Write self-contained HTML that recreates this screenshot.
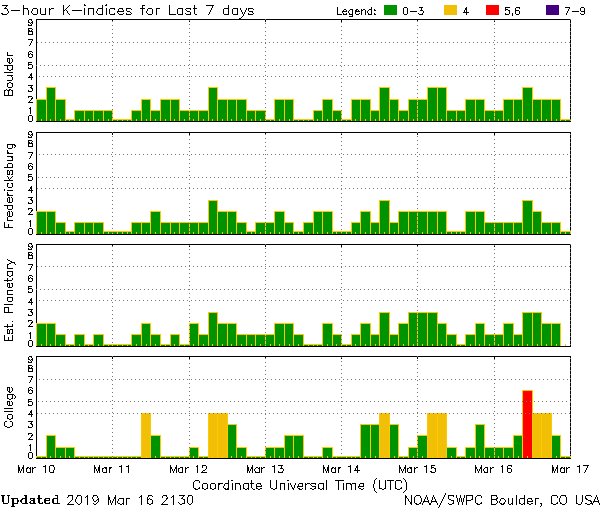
<!DOCTYPE html>
<html lang="en">
<head>
<meta charset="utf-8">
<title>3-hour K-indices for Last 7 days</title>
<style>
html,body{margin:0;padding:0;background:#fff}
body{width:600px;height:510px;overflow:hidden;font-family:"Liberation Sans",sans-serif}
svg{display:block;shape-rendering:crispEdges}
.h{fill:transparent;stroke:none;font-family:"Liberation Sans",sans-serif;font-size:9px}
.k,.t path{fill:#000}.y{fill:#ffc800}.o{fill:#f1bf05}.g{fill:#009300}.r{fill:#ff0000}.p{fill:#420080}.d{fill:#787878}.x0{fill:#707080}.x1{fill:#698c8c}
</style>
</head>
<body>
<svg width="600" height="510" viewBox="0 0 600 510" role="img" aria-label="3-hour K-indices for Last 7 days">
<rect width="600" height="510" fill="#fff"/>
<g id="panel-1"><title>Boulder K-index</title>
<path class="k frame" d="M36 19h1v103h-1zm0 0h535v1h-535zm534 0h1v103h-1zm-534 102h535v1h-535z"/>
<path class="k tick" d="M112 20h1v2h-1zm77 0h1v2h-1zm76 0h1v2h-1zm76 0h1v2h-1zm76 0h1v2h-1zm77 0h1v2h-1z"/>
<path class="y barborder" d="M46 87h10v34h-10zm162 0h10v34h-10zm171 0h11v34h-11zm48 0h11v34h-11zm10 0h10v34h-10zm85 0h11v34h-11zm-486 12h11v22h-11zm19 0h11v22h-11zm86 0h10v22h-10zm19 0h11v22h-11zm10 0h10v22h-10zm47 0h11v22h-11zm10 0h10v22h-10zm9 0h11v22h-11zm38 0h11v22h-11zm10 0h10v22h-10zm38 0h11v22h-11zm29 0h10v22h-10zm9 0h11v22h-11zm29 0h10v22h-10zm19 0h10v22h-10zm9 0h11v22h-11zm48 0h11v22h-11zm10 0h10v22h-10zm28 0h11v22h-11zm10 0h10v22h-10zm19 0h10v22h-10zm9 0h11v22h-11zm10 0h10v22h-10zm-477 11h11v11h-11zm10 0h10v11h-10zm9 0h11v11h-11zm10 0h10v11h-10zm28 0h11v11h-11zm19 0h11v11h-11zm29 0h11v11h-11zm10 0h10v11h-10zm9 0h11v11h-11zm48 0h10v11h-10zm9 0h11v11h-11zm58 0h10v11h-10zm19 0h10v11h-10zm38 0h10v11h-10zm28 0h11v11h-11zm48 0h11v11h-11zm10 0h10v11h-10zm28 0h11v11h-11zm10 0h10v11h-10zm-429 9h10v2h-10zm47 0h11v2h-11zm10 0h10v2h-10zm143 0h10v2h-10zm28 0h11v2h-11zm10 0h11v2h-11zm38 0h11v2h-11zm219 0h11v2h-11z"/>
<path class="g barfill" d="M47 88h8v33h-8zm162 0h8v33h-8zm171 0h9v33h-9zm48 0h9v33h-9zm10 0h8v33h-8zm85 0h9v33h-9zm-486 12h9v21h-9zm19 0h9v21h-9zm86 0h8v21h-8zm19 0h9v21h-9zm10 0h8v21h-8zm47 0h9v21h-9zm10 0h8v21h-8zm9 0h9v21h-9zm38 0h9v21h-9zm10 0h8v21h-8zm38 0h9v21h-9zm29 0h8v21h-8zm9 0h9v21h-9zm29 0h8v21h-8zm19 0h8v21h-8zm9 0h9v21h-9zm48 0h9v21h-9zm10 0h8v21h-8zm28 0h9v21h-9zm10 0h8v21h-8zm19 0h8v21h-8zm9 0h9v21h-9zm10 0h8v21h-8zm-477 11h9v10h-9zm10 0h8v10h-8zm9 0h9v10h-9zm10 0h8v10h-8zm28 0h9v10h-9zm19 0h9v10h-9zm29 0h9v10h-9zm10 0h8v10h-8zm9 0h9v10h-9zm48 0h8v10h-8zm9 0h9v10h-9zm58 0h8v10h-8zm19 0h8v10h-8zm38 0h8v10h-8zm28 0h9v10h-9zm48 0h9v10h-9zm10 0h8v10h-8zm28 0h9v10h-9zm10 0h8v10h-8zm-429 9h8v1h-8zm47 0h9v1h-9zm10 0h8v1h-8zm143 0h8v1h-8zm28 0h9v1h-9zm10 0h9v1h-9zm38 0h9v1h-9zm219 0h9v1h-9z"/>
<path class="y ytick" d="M41 119h1v2h-1zm9 0h1v2h-1zm10 0h1v2h-1zm9 0h1v2h-1zm10 0h1v2h-1zm9 0h1v2h-1zm10 0h1v2h-1zm10 0h1v2h-1zm9 0h1v2h-1zm10 0h1v2h-1zm9 0h1v2h-1zm10 0h1v2h-1zm9 0h1v2h-1zm10 0h1v2h-1zm9 0h1v2h-1zm10 0h1v2h-1zm9 0h1v2h-1zm10 0h1v2h-1zm9 0h1v2h-1zm10 0h1v2h-1zm9 0h1v2h-1zm10 0h1v2h-1zm10 0h1v2h-1zm9 0h1v2h-1zm10 0h1v2h-1zm9 0h1v2h-1zm10 0h1v2h-1zm9 0h1v2h-1zm10 0h1v2h-1zm9 0h1v2h-1zm10 0h1v2h-1zm9 0h1v2h-1zm10 0h1v2h-1zm9 0h1v2h-1zm10 0h1v2h-1zm10 0h1v2h-1zm9 0h1v2h-1zm10 0h1v2h-1zm9 0h1v2h-1zm10 0h1v2h-1zm9 0h1v2h-1zm10 0h1v2h-1zm9 0h1v2h-1zm10 0h1v2h-1zm9 0h1v2h-1zm10 0h1v2h-1zm9 0h1v2h-1zm10 0h1v2h-1zm9 0h1v2h-1zm10 0h1v2h-1zm10 0h1v2h-1zm9 0h1v2h-1zm10 0h1v2h-1zm9 0h1v2h-1zm10 0h1v2h-1zm9 0h1v2h-1z"/>
<path class="d dots" d="M265 19h1v1h-1zm305 0h1v1h-1zm-381 1h1v1h-1zm305 0h1v1h-1zm-382 1h1v1h-1zm305 0h1v1h-1zm-76 1h1v1h-1zm-76 1h1v1h-1zm305 0h1v1h-1zm-381 1h1v1h-1zm305 0h1v1h-1zm-382 1h1v1h-1zm305 0h1v1h-1zm-76 1h1v1h-1zm-76 1h1v1h-1zm305 0h1v1h-1zm-381 1h1v1h-1zm305 0h1v1h-1zm-382 1h1v1h-1zm305 0h1v1h-1zm-76 1h1v1h-1zm-76 1h1v1h-1zm305 0h1v1h-1zm-381 1h1v1h-1zm305 0h1v1h-1zm-382 1h1v1h-1zm305 0h1v1h-1zm-76 1h1v1h-1zm-76 1h1v1h-1zm305 0h1v1h-1zm-381 1h1v1h-1zm305 0h1v1h-1zm-382 1h1v1h-1zm305 0h1v1h-1zm-76 1h1v1h-1zm-76 1h1v1h-1zm305 0h1v1h-1zm-381 1h1v1h-1zm305 0h1v1h-1zm-382 1h1v1h-1zm305 0h1v2h-1zm-380 1h1v1h-1zm4 0h1v1h-1zm4 0h1v1h-1zm4 0h1v1h-1zm4 0h1v1h-1zm4 0h1v1h-1zm4 0h1v1h-1zm4 0h1v1h-1zm4 0h1v1h-1zm4 0h1v1h-1zm4 0h1v1h-1zm4 0h1v1h-1zm4 0h1v1h-1zm4 0h1v1h-1zm4 0h1v1h-1zm4 0h1v1h-1zm4 0h1v1h-1zm4 0h1v1h-1zm4 0h1v1h-1zm4 0h1v1h-1zm4 0h1v1h-1zm4 0h1v1h-1zm4 0h1v1h-1zm4 0h1v1h-1zm4 0h1v1h-1zm4 0h1v1h-1zm4 0h1v1h-1zm4 0h1v1h-1zm4 0h1v1h-1zm4 0h1v1h-1zm4 0h1v1h-1zm4 0h1v1h-1zm4 0h1v1h-1zm4 0h1v1h-1zm4 0h1v1h-1zm4 0h1v1h-1zm4 0h1v1h-1zm4 0h1v1h-1zm4 0h1v1h-1zm4 0h1v1h-1zm4 0h1v1h-1zm4 0h1v1h-1zm4 0h1v1h-1zm4 0h1v1h-1zm4 0h1v1h-1zm4 0h1v1h-1zm4 0h1v1h-1zm4 0h1v1h-1zm4 0h1v1h-1zm4 0h1v1h-1zm4 0h1v1h-1zm4 0h1v1h-1zm4 0h1v1h-1zm4 0h1v1h-1zm4 0h1v1h-1zm4 0h1v1h-1zm4 0h1v1h-1zm4 0h1v2h-1zm4 0h1v1h-1zm4 0h1v1h-1zm4 0h1v1h-1zm4 0h1v1h-1zm4 0h1v1h-1zm4 0h1v1h-1zm4 0h1v1h-1zm4 0h1v1h-1zm4 0h1v1h-1zm4 0h1v1h-1zm4 0h1v1h-1zm4 0h1v1h-1zm4 0h1v1h-1zm4 0h1v1h-1zm4 0h1v1h-1zm4 0h1v1h-1zm4 0h1v1h-1zm4 0h1v1h-1zm4 0h1v1h-1zm4 0h1v1h-1zm4 0h1v1h-1zm4 0h1v1h-1zm4 0h1v1h-1zm4 0h1v1h-1zm4 0h1v1h-1zm4 0h1v1h-1zm4 0h1v1h-1zm4 0h1v1h-1zm4 0h1v1h-1zm4 0h1v1h-1zm4 0h1v1h-1zm4 0h1v1h-1zm4 0h1v1h-1zm4 0h1v1h-1zm4 0h1v1h-1zm4 0h1v1h-1zm4 0h1v1h-1zm8 0h1v1h-1zm4 0h1v1h-1zm4 0h1v1h-1zm4 0h1v1h-1zm4 0h1v1h-1zm4 0h1v1h-1zm4 0h1v1h-1zm4 0h1v1h-1zm4 0h1v1h-1zm4 0h1v1h-1zm4 0h1v1h-1zm4 0h1v1h-1zm4 0h1v1h-1zm4 0h1v1h-1zm4 0h1v1h-1zm4 0h1v1h-1zm4 0h1v1h-1zm4 0h1v1h-1zm4 0h1v1h-1zm4 0h1v1h-1zm4 0h1v1h-1zm4 0h1v1h-1zm4 0h1v1h-1zm4 0h1v1h-1zm4 0h1v1h-1zm4 0h1v1h-1zm4 0h1v1h-1zm4 0h1v1h-1zm4 0h1v1h-1zm4 0h1v1h-1zm4 0h1v1h-1zm4 0h1v1h-1zm4 0h1v1h-1zm4 0h1v1h-1zm4 0h1v1h-1zm4 0h1v1h-1zm4 0h1v1h-1zm4 0h1v1h-1zm1 1h1v1h-1zm-381 1h1v1h-1zm305 0h1v1h-1zm-382 1h1v1h-1zm305 0h1v1h-1zm-76 1h1v1h-1zm-76 1h1v1h-1zm305 0h1v1h-1zm-381 1h1v1h-1zm305 0h1v1h-1zm-382 1h1v1h-1zm305 0h1v1h-1zm-76 1h1v1h-1zm-76 1h1v1h-1zm305 0h1v1h-1zm-381 1h1v1h-1zm305 0h1v1h-1zm-382 1h1v1h-1zm305 0h1v1h-1zm-76 1h1v1h-1zm-76 1h1v1h-1zm305 0h1v1h-1zm-381 1h1v1h-1zm305 0h1v1h-1zm-382 1h1v1h-1zm305 0h1v1h-1zm-76 1h1v1h-1zm-76 1h1v1h-1zm305 0h1v1h-1zm-381 1h1v1h-1zm305 0h1v1h-1zm-382 1h1v1h-1zm305 0h1v1h-1zm-76 1h1v1h-1zm-76 1h1v1h-1zm305 0h1v1h-1zm-381 1h1v1h-1zm305 0h1v1h-1zm-458 1h1v1h-1zm4 0h1v1h-1zm4 0h1v1h-1zm4 0h1v1h-1zm4 0h1v1h-1zm4 0h1v1h-1zm4 0h1v1h-1zm4 0h1v1h-1zm4 0h1v1h-1zm4 0h1v1h-1zm4 0h1v1h-1zm4 0h1v1h-1zm4 0h1v1h-1zm4 0h1v1h-1zm4 0h1v1h-1zm4 0h1v1h-1zm4 0h1v1h-1zm4 0h1v1h-1zm4 0h1v1h-1zm4 0h1v1h-1zm4 0h1v1h-1zm4 0h1v1h-1zm4 0h1v1h-1zm4 0h1v1h-1zm4 0h1v1h-1zm4 0h1v1h-1zm4 0h1v1h-1zm4 0h1v1h-1zm4 0h1v1h-1zm4 0h1v1h-1zm4 0h1v1h-1zm4 0h1v1h-1zm4 0h1v1h-1zm4 0h1v1h-1zm4 0h1v1h-1zm4 0h1v1h-1zm4 0h1v1h-1zm4 0h1v1h-1zm4 0h1v1h-1zm4 0h1v1h-1zm4 0h1v1h-1zm4 0h1v1h-1zm4 0h1v1h-1zm4 0h1v1h-1zm4 0h1v1h-1zm4 0h1v1h-1zm4 0h1v1h-1zm4 0h1v1h-1zm4 0h1v1h-1zm4 0h1v1h-1zm4 0h1v1h-1zm4 0h1v1h-1zm4 0h1v1h-1zm4 0h1v1h-1zm4 0h1v1h-1zm4 0h1v1h-1zm4 0h1v1h-1zm4 0h1v1h-1zm4 0h1v1h-1zm4 0h1v1h-1zm4 0h1v1h-1zm4 0h1v1h-1zm4 0h1v1h-1zm4 0h1v1h-1zm4 0h1v1h-1zm4 0h1v1h-1zm4 0h1v1h-1zm4 0h1v1h-1zm4 0h1v1h-1zm4 0h1v1h-1zm4 0h1v1h-1zm4 0h1v1h-1zm4 0h1v1h-1zm4 0h1v1h-1zm4 0h1v1h-1zm4 0h1v1h-1zm4 0h1v1h-1zm4 0h1v1h-1zm4 0h1v1h-1zm4 0h1v1h-1zm4 0h1v1h-1zm4 0h1v1h-1zm4 0h1v1h-1zm4 0h1v1h-1zm4 0h1v1h-1zm4 0h1v1h-1zm4 0h1v1h-1zm4 0h1v1h-1zm4 0h1v1h-1zm4 0h1v1h-1zm4 0h1v1h-1zm4 0h1v1h-1zm4 0h1v1h-1zm4 0h1v1h-1zm4 0h1v1h-1zm4 0h2v1h-2zm4 0h1v1h-1zm4 0h1v1h-1zm4 0h1v1h-1zm4 0h1v1h-1zm4 0h1v1h-1zm4 0h1v1h-1zm4 0h1v1h-1zm4 0h1v1h-1zm4 0h1v1h-1zm4 0h1v1h-1zm4 0h1v1h-1zm4 0h1v1h-1zm4 0h1v1h-1zm4 0h1v1h-1zm4 0h1v1h-1zm4 0h1v1h-1zm4 0h1v1h-1zm4 0h1v1h-1zm4 0h1v1h-1zm4 0h1v1h-1zm4 0h1v1h-1zm4 0h1v1h-1zm4 0h1v1h-1zm4 0h1v1h-1zm4 0h1v1h-1zm4 0h1v1h-1zm4 0h1v1h-1zm4 0h1v1h-1zm4 0h1v1h-1zm4 0h1v1h-1zm4 0h1v1h-1zm4 0h1v1h-1zm4 0h1v1h-1zm4 0h1v1h-1zm4 0h1v1h-1zm4 0h1v1h-1zm4 0h1v1h-1zm4 0h1v1h-1zm-227 1h1v1h-1zm-76 1h1v1h-1zm305 0h1v1h-1zm-381 1h1v1h-1zm305 0h1v1h-1zm-382 1h1v1h-1zm305 0h1v1h-1zm-76 1h1v1h-1zm-76 1h1v1h-1zm305 0h1v1h-1zm-381 1h1v1h-1zm305 0h1v1h-1zm-382 1h1v1h-1zm305 0h1v1h-1zm-76 1h1v1h-1zm-76 1h1v1h-1zm305 0h1v1h-1zm-531 1h1v1h-1zm4 0h1v1h-1zm4 0h1v1h-1zm4 0h1v1h-1zm4 0h1v1h-1zm4 0h1v1h-1zm4 0h1v1h-1zm4 0h1v1h-1zm4 0h1v1h-1zm4 0h1v1h-1zm4 0h1v1h-1zm4 0h1v1h-1zm4 0h1v1h-1zm4 0h1v1h-1zm4 0h1v1h-1zm4 0h1v1h-1zm4 0h1v1h-1zm4 0h1v1h-1zm4 0h1v1h-1zm4 0h1v1h-1zm4 0h1v1h-1zm4 0h1v1h-1zm4 0h1v1h-1zm4 0h1v1h-1zm4 0h1v1h-1zm4 0h1v1h-1zm4 0h1v1h-1zm4 0h1v1h-1zm4 0h1v1h-1zm4 0h1v1h-1zm4 0h1v1h-1zm4 0h1v1h-1zm4 0h1v1h-1zm4 0h1v1h-1zm4 0h1v1h-1zm4 0h1v1h-1zm4 0h1v1h-1zm4 0h1v1h-1zm2 0h1v1h-1zm2 0h1v1h-1zm4 0h1v1h-1zm4 0h1v1h-1zm4 0h1v1h-1zm4 0h1v1h-1zm4 0h1v1h-1zm4 0h1v1h-1zm4 0h1v1h-1zm4 0h1v1h-1zm4 0h1v1h-1zm4 0h1v1h-1zm4 0h1v1h-1zm4 0h1v1h-1zm4 0h1v1h-1zm4 0h1v1h-1zm4 0h1v1h-1zm4 0h1v1h-1zm4 0h1v1h-1zm4 0h1v1h-1zm4 0h1v1h-1zm4 0h1v1h-1zm4 0h1v1h-1zm4 0h1v1h-1zm4 0h1v1h-1zm4 0h1v1h-1zm4 0h1v1h-1zm4 0h1v1h-1zm4 0h1v1h-1zm4 0h1v1h-1zm4 0h1v1h-1zm4 0h1v1h-1zm4 0h1v1h-1zm4 0h1v1h-1zm4 0h1v1h-1zm4 0h1v1h-1zm4 0h1v1h-1zm4 0h1v1h-1zm4 0h1v1h-1zm4 0h1v1h-1zm4 0h1v1h-1zm4 0h1v1h-1zm4 0h1v1h-1zm4 0h1v1h-1zm4 0h1v1h-1zm4 0h1v1h-1zm4 0h1v1h-1zm4 0h1v1h-1zm4 0h1v1h-1zm4 0h1v1h-1zm4 0h1v1h-1zm4 0h1v1h-1zm4 0h1v1h-1zm4 0h1v1h-1zm4 0h1v1h-1zm4 0h1v1h-1zm4 0h1v1h-1zm4 0h1v1h-1zm4 0h1v1h-1zm4 0h1v1h-1zm4 0h1v1h-1zm4 0h1v1h-1zm4 0h1v1h-1zm4 0h1v1h-1zm4 0h1v1h-1zm4 0h1v1h-1zm4 0h1v1h-1zm4 0h1v1h-1zm4 0h1v1h-1zm4 0h1v1h-1zm4 0h1v1h-1zm4 0h1v1h-1zm4 0h1v1h-1zm4 0h1v1h-1zm4 0h1v1h-1zm4 0h1v1h-1zm4 0h1v1h-1zm3 0h2v1h-2zm5 0h1v1h-1zm4 0h1v1h-1zm4 0h1v1h-1zm4 0h1v1h-1zm4 0h1v1h-1zm4 0h1v1h-1zm4 0h1v1h-1zm4 0h1v1h-1zm4 0h1v1h-1zm4 0h1v1h-1zm4 0h1v1h-1zm4 0h1v1h-1zm4 0h1v1h-1zm4 0h1v1h-1zm4 0h1v1h-1zm4 0h1v1h-1zm4 0h1v1h-1zm4 0h1v1h-1zm-455 1h1v1h-1zm305 0h1v1h-1zm-76 1h1v1h-1zm-76 1h1v1h-1zm305 0h1v1h-1zm-381 1h1v1h-1zm305 0h1v1h-1zm-382 1h1v1h-1zm305 0h1v1h-1zm-76 1h1v1h-1zm-76 1h1v1h-1zm305 0h1v1h-1zm-381 1h1v1h-1zm305 0h1v1h-1zm-382 1h1v1h-1zm305 0h1v1h-1zm-76 1h1v1h-1zm-76 1h1v1h-1zm305 0h1v1h-1zm-381 1h1v1h-1zm305 0h1v1h-1zm-382 1h1v1h-1zm305 0h1v1h-1zm-76 1h1v1h-1zm-76 1h1v1h-1zm305 0h1v1h-1zm-381 1h1v1h-1zm305 0h1v1h-1zm-382 1h1v1h-1zm305 0h1v1h-1zm-76 1h1v1h-1zm-76 1h1v1h-1zm305 0h1v1h-1zm-381 1h1v1h-1zm305 0h1v1h-1zm-382 1h1v1h-1zm305 0h1v1h-1zm-76 1h1v1h-1zm-76 1h1v1h-1zm305 0h1v1h-1zm-381 1h1v1h-1zm305 0h1v1h-1zm-382 1h1v1h-1zm229 1h1v1h-1zm-76 1h1v1h-1zm305 0h1v1h-1zm-381 1h1v1h-1zm305 0h1v1h-1zm-382 1h1v1h-1zm229 1h1v1h-1zm-76 1h1v1h-1zm305 0h1v1h-1zm-381 1h1v1h-1zm305 0h1v1h-1zm-382 1h1v1h-1zm458 2h1v1h-1zm0 4h1v1h-1zm-458 6h1v1h-1zm305 0h1v1h-1z"/>
<path class="x0 dots" d="M417 101h1v1h-1zm0 4h1v1h-1zm0 4h1v1h-1zm-76 1h1v1h-1zm-76 1h1v1h-1zm-76 1h1v1h-1zm305 0h1v1h-1zm-382 1h1v1h-1zm305 0h1v1h-1zm-76 1h1v1h-1zm-76 1h1v1h-1zm-76 1h1v1h-1zm305 0h1v1h-1zm-382 1h1v1h-1zm305 0h1v1h-1zm-76 1h1v1h-1zm-76 1h1v1h-1zm305 0h1v1h-1zm-381 1h1v1h-1zm305 0h1v1h-1z"/>
<path class="k axis" d="M36 121h535v1h-535z"/>
</g>
<g id="panel-2"><title>Fredericksburg K-index</title>
<path class="k frame" d="M36 132h1v103h-1zm0 0h535v1h-535zm534 0h1v103h-1zm-534 102h535v1h-535z"/>
<path class="k tick" d="M112 133h1v2h-1zm77 0h1v2h-1zm76 0h1v2h-1zm76 0h1v2h-1zm76 0h1v2h-1zm77 0h1v2h-1z"/>
<path class="y barborder" d="M208 200h10v34h-10zm171 0h11v34h-11zm143 0h11v34h-11zm-486 11h11v23h-11zm10 0h10v23h-10zm104 0h11v23h-11zm67 0h11v23h-11zm10 0h10v23h-10zm47 0h11v23h-11zm39 0h10v23h-10zm9 0h11v23h-11zm38 0h11v23h-11zm38 0h11v23h-11zm10 0h10v23h-10zm9 0h11v23h-11zm10 0h11v23h-11zm10 0h10v23h-10zm28 0h11v23h-11zm10 0h10v23h-10zm57 0h10v23h-10zm-477 11h11v12h-11zm19 0h11v12h-11zm10 0h10v12h-10zm9 0h11v12h-11zm38 0h11v12h-11zm10 0h10v12h-10zm19 0h11v12h-11zm10 0h10v12h-10zm9 0h11v12h-11zm10 0h10v12h-10zm9 0h11v12h-11zm38 0h11v12h-11zm19 0h11v12h-11zm10 0h10v12h-10zm19 0h10v12h-10zm19 0h11v12h-11zm48 0h10v12h-10zm19 0h10v12h-10zm19 0h10v12h-10zm95 0h11v12h-11zm10 0h10v12h-10zm9 0h11v12h-11zm10 0h10v12h-10zm28 0h11v12h-11zm10 0h10v12h-10zm-486 9h10v3h-10zm38 0h10v3h-10zm9 0h11v3h-11zm10 0h10v3h-10zm124 0h10v3h-10zm47 0h11v3h-11zm39 0h10v3h-10zm9 0h11v3h-11zm105 0h11v3h-11zm10 0h10v3h-10zm104 0h11v3h-11z"/>
<path class="g barfill" d="M209 201h8v33h-8zm171 0h9v33h-9zm143 0h9v33h-9zm-486 11h9v22h-9zm10 0h8v22h-8zm104 0h9v22h-9zm67 0h9v22h-9zm10 0h8v22h-8zm47 0h9v22h-9zm39 0h8v22h-8zm9 0h9v22h-9zm38 0h9v22h-9zm38 0h9v22h-9zm10 0h8v22h-8zm9 0h9v22h-9zm10 0h9v22h-9zm10 0h8v22h-8zm28 0h9v22h-9zm10 0h8v22h-8zm57 0h8v22h-8zm-477 11h9v11h-9zm19 0h9v11h-9zm10 0h8v11h-8zm9 0h9v11h-9zm38 0h9v11h-9zm10 0h8v11h-8zm19 0h9v11h-9zm10 0h8v11h-8zm9 0h9v11h-9zm10 0h8v11h-8zm9 0h9v11h-9zm38 0h9v11h-9zm19 0h9v11h-9zm10 0h8v11h-8zm19 0h8v11h-8zm19 0h9v11h-9zm48 0h8v11h-8zm19 0h8v11h-8zm19 0h8v11h-8zm95 0h9v11h-9zm10 0h8v11h-8zm9 0h9v11h-9zm10 0h8v11h-8zm28 0h9v11h-9zm10 0h8v11h-8zm-486 9h8v2h-8zm38 0h8v2h-8zm9 0h9v2h-9zm10 0h8v2h-8zm124 0h8v2h-8zm47 0h9v2h-9zm39 0h8v2h-8zm9 0h9v2h-9zm105 0h9v2h-9zm10 0h8v2h-8zm104 0h9v2h-9z"/>
<path class="y ytick" d="M41 232h1v2h-1zm9 0h1v2h-1zm10 0h1v2h-1zm9 0h1v2h-1zm10 0h1v2h-1zm9 0h1v2h-1zm10 0h1v2h-1zm10 0h1v2h-1zm9 0h1v2h-1zm10 0h1v2h-1zm9 0h1v2h-1zm10 0h1v2h-1zm9 0h1v2h-1zm10 0h1v2h-1zm9 0h1v2h-1zm10 0h1v2h-1zm9 0h1v2h-1zm10 0h1v2h-1zm9 0h1v2h-1zm10 0h1v2h-1zm9 0h1v2h-1zm10 0h1v2h-1zm10 0h1v2h-1zm9 0h1v2h-1zm10 0h1v2h-1zm9 0h1v2h-1zm10 0h1v2h-1zm9 0h1v2h-1zm10 0h1v2h-1zm9 0h1v2h-1zm10 0h1v2h-1zm9 0h1v2h-1zm10 0h1v2h-1zm9 0h1v2h-1zm10 0h1v2h-1zm10 0h1v2h-1zm9 0h1v2h-1zm10 0h1v2h-1zm9 0h1v2h-1zm10 0h1v2h-1zm9 0h1v2h-1zm10 0h1v2h-1zm9 0h1v2h-1zm10 0h1v2h-1zm9 0h1v2h-1zm10 0h1v2h-1zm9 0h1v2h-1zm10 0h1v2h-1zm9 0h1v2h-1zm10 0h1v2h-1zm10 0h1v2h-1zm9 0h1v2h-1zm10 0h1v2h-1zm9 0h1v2h-1zm10 0h1v2h-1zm9 0h1v2h-1z"/>
<path class="x0 dots" d="M417 212h1v1h-1zm0 4h1v1h-1zm0 4h1v1h-1zm-152 2h1v1h-1zm-76 1h1v1h-1zm305 0h1v1h-1zm-77 1h1v1h-1zm-152 2h1v1h-1zm-76 1h1v1h-1zm305 0h1v1h-1zm-77 1h1v1h-1zm-152 2h1v1h-1zm-76 1h1v1h-1zm305 0h1v1h-1zm-382 1h1v1h-1zm305 0h1v1h-1zm-76 1h1v1h-1z"/>
<path class="d dots" d="M112 132h1v1h-1zm305 0h1v1h-1zm-76 1h1v1h-1zm-76 1h1v1h-1zm305 0h1v1h-1zm-381 1h1v1h-1zm305 0h1v1h-1zm-382 1h1v1h-1zm305 0h1v1h-1zm-76 1h1v1h-1zm-76 1h1v1h-1zm305 0h1v1h-1zm-381 1h1v1h-1zm305 0h1v1h-1zm-382 1h1v1h-1zm305 0h1v1h-1zm-76 1h1v1h-1zm-76 1h1v1h-1zm305 0h1v1h-1zm-381 1h1v1h-1zm305 0h1v1h-1zm-382 1h1v1h-1zm305 0h1v1h-1zm-76 1h1v1h-1zm-76 1h1v1h-1zm305 0h1v1h-1zm-381 1h1v1h-1zm305 0h1v1h-1zm-382 1h1v1h-1zm305 0h1v1h-1zm-76 1h1v1h-1zm-76 1h1v1h-1zm305 0h1v1h-1zm-381 1h1v1h-1zm305 0h1v1h-1zm-382 1h1v1h-1zm305 0h1v1h-1zm-76 1h1v1h-1zm-302 1h1v1h-1zm4 0h1v1h-1zm4 0h1v1h-1zm4 0h1v1h-1zm4 0h1v1h-1zm4 0h1v1h-1zm4 0h1v1h-1zm4 0h1v1h-1zm4 0h1v1h-1zm4 0h1v1h-1zm4 0h1v1h-1zm4 0h1v1h-1zm4 0h1v1h-1zm4 0h1v1h-1zm4 0h1v1h-1zm4 0h1v1h-1zm4 0h1v1h-1zm4 0h1v1h-1zm4 0h1v1h-1zm4 0h1v1h-1zm4 0h1v1h-1zm4 0h1v1h-1zm4 0h1v1h-1zm4 0h1v1h-1zm4 0h1v1h-1zm4 0h1v1h-1zm4 0h1v1h-1zm4 0h1v1h-1zm4 0h1v1h-1zm4 0h1v1h-1zm4 0h1v1h-1zm4 0h1v1h-1zm4 0h1v1h-1zm4 0h1v1h-1zm4 0h1v1h-1zm4 0h1v1h-1zm4 0h1v1h-1zm4 0h1v1h-1zm4 0h1v1h-1zm4 0h1v1h-1zm4 0h1v1h-1zm4 0h1v1h-1zm4 0h1v1h-1zm4 0h1v1h-1zm4 0h1v1h-1zm4 0h1v1h-1zm4 0h1v1h-1zm4 0h1v1h-1zm4 0h1v1h-1zm4 0h1v1h-1zm4 0h1v1h-1zm4 0h1v1h-1zm4 0h1v1h-1zm4 0h1v1h-1zm4 0h1v1h-1zm4 0h1v1h-1zm4 0h1v1h-1zm2 0h1v1h-1zm2 0h1v1h-1zm4 0h1v1h-1zm4 0h1v1h-1zm4 0h1v1h-1zm4 0h1v1h-1zm4 0h1v1h-1zm4 0h1v1h-1zm4 0h1v1h-1zm4 0h1v1h-1zm4 0h1v1h-1zm4 0h1v1h-1zm4 0h1v1h-1zm4 0h1v1h-1zm4 0h1v1h-1zm4 0h1v1h-1zm4 0h1v1h-1zm4 0h1v1h-1zm4 0h1v1h-1zm4 0h1v1h-1zm4 0h1v1h-1zm4 0h1v1h-1zm4 0h1v1h-1zm4 0h1v1h-1zm4 0h1v1h-1zm4 0h1v1h-1zm4 0h1v1h-1zm4 0h1v1h-1zm4 0h1v1h-1zm4 0h1v1h-1zm4 0h1v1h-1zm4 0h1v1h-1zm4 0h1v1h-1zm4 0h1v1h-1zm4 0h1v1h-1zm4 0h1v1h-1zm4 0h1v1h-1zm4 0h1v1h-1zm4 0h1v1h-1zm4 0h1v1h-1zm4 0h1v1h-1zm4 0h1v1h-1zm4 0h1v1h-1zm4 0h1v1h-1zm4 0h1v1h-1zm4 0h1v1h-1zm4 0h1v1h-1zm4 0h1v1h-1zm4 0h1v1h-1zm4 0h1v1h-1zm4 0h1v1h-1zm4 0h1v1h-1zm4 0h1v1h-1zm4 0h1v1h-1zm4 0h1v1h-1zm4 0h1v1h-1zm4 0h1v1h-1zm4 0h1v1h-1zm4 0h1v1h-1zm4 0h1v1h-1zm4 0h1v1h-1zm4 0h1v1h-1zm4 0h1v1h-1zm4 0h1v1h-1zm4 0h1v1h-1zm4 0h1v1h-1zm4 0h1v1h-1zm4 0h1v1h-1zm4 0h1v1h-1zm4 0h1v1h-1zm4 0h1v1h-1zm4 0h1v1h-1zm4 0h1v1h-1zm4 0h1v1h-1zm4 0h1v1h-1zm4 0h1v1h-1zm4 0h1v1h-1zm3 0h1v1h-1zm-381 1h1v1h-1zm305 0h1v1h-1zm-382 1h1v1h-1zm305 0h1v1h-1zm-76 1h1v1h-1zm-76 1h1v1h-1zm305 0h1v1h-1zm-381 1h1v1h-1zm305 0h1v1h-1zm-382 1h1v1h-1zm305 0h1v1h-1zm-76 1h1v1h-1zm-76 1h1v1h-1zm305 0h1v1h-1zm-381 1h1v1h-1zm305 0h1v1h-1zm-382 1h1v1h-1zm305 0h1v1h-1zm-76 1h1v1h-1zm-76 1h1v1h-1zm305 0h1v1h-1zm-381 1h1v1h-1zm305 0h1v1h-1zm-382 1h1v1h-1zm305 0h1v1h-1zm-76 1h1v1h-1zm-76 1h1v1h-1zm305 0h1v1h-1zm-381 1h1v1h-1zm305 0h1v1h-1zm-382 1h1v1h-1zm305 0h1v1h-1zm-76 1h1v1h-1zm-76 1h1v1h-1zm305 0h1v1h-1zm-381 1h1v1h-1zm305 0h1v1h-1zm-382 1h1v1h-1zm305 0h1v1h-1zm-379 1h1v1h-1zm4 0h1v1h-1zm4 0h1v1h-1zm4 0h1v1h-1zm4 0h1v1h-1zm4 0h1v1h-1zm4 0h1v1h-1zm4 0h1v1h-1zm4 0h1v1h-1zm4 0h1v1h-1zm4 0h1v1h-1zm4 0h1v1h-1zm4 0h1v1h-1zm4 0h1v1h-1zm4 0h1v1h-1zm4 0h1v1h-1zm4 0h1v1h-1zm4 0h1v1h-1zm4 0h1v1h-1zm4 0h1v1h-1zm4 0h1v1h-1zm4 0h1v1h-1zm4 0h1v1h-1zm4 0h1v1h-1zm4 0h1v1h-1zm4 0h1v1h-1zm4 0h1v1h-1zm4 0h1v1h-1zm4 0h1v1h-1zm4 0h1v1h-1zm4 0h1v1h-1zm4 0h1v1h-1zm4 0h1v1h-1zm4 0h1v1h-1zm4 0h1v1h-1zm4 0h1v1h-1zm4 0h1v1h-1zm4 0h1v1h-1zm4 0h1v1h-1zm4 0h1v1h-1zm4 0h1v1h-1zm4 0h1v1h-1zm4 0h1v1h-1zm4 0h1v1h-1zm4 0h1v1h-1zm4 0h1v1h-1zm4 0h1v1h-1zm4 0h1v1h-1zm4 0h1v1h-1zm4 0h1v1h-1zm4 0h1v1h-1zm4 0h1v1h-1zm4 0h1v1h-1zm4 0h1v1h-1zm4 0h1v1h-1zm4 0h1v1h-1zm4 0h1v1h-1zm4 0h1v1h-1zm4 0h1v1h-1zm4 0h1v1h-1zm4 0h1v1h-1zm4 0h1v1h-1zm4 0h1v1h-1zm4 0h1v1h-1zm4 0h1v1h-1zm4 0h1v1h-1zm4 0h1v1h-1zm4 0h1v1h-1zm4 0h1v1h-1zm4 0h1v1h-1zm4 0h1v1h-1zm4 0h1v1h-1zm4 0h1v1h-1zm4 0h1v1h-1zm4 0h1v1h-1zm4 0h1v1h-1zm3 0h2v1h-2zm5 0h1v1h-1zm4 0h1v1h-1zm4 0h1v1h-1zm4 0h1v1h-1zm4 0h1v1h-1zm4 0h1v1h-1zm4 0h1v1h-1zm4 0h1v1h-1zm4 0h1v1h-1zm4 0h1v1h-1zm4 0h1v1h-1zm4 0h1v1h-1zm4 0h1v1h-1zm4 0h1v1h-1zm4 0h1v1h-1zm4 0h1v1h-1zm4 0h1v1h-1zm4 0h1v1h-1zm4 0h1v1h-1zm4 0h1v1h-1zm4 0h1v1h-1zm4 0h1v1h-1zm4 0h1v1h-1zm4 0h1v1h-1zm4 0h1v1h-1zm4 0h1v1h-1zm4 0h1v1h-1zm4 0h1v1h-1zm4 0h1v1h-1zm4 0h1v1h-1zm4 0h1v1h-1zm4 0h1v1h-1zm4 0h1v1h-1zm4 0h1v1h-1zm4 0h1v1h-1zm4 0h1v1h-1zm4 0h1v1h-1zm4 0h1v1h-1zm4 0h1v1h-1zm4 0h1v1h-1zm4 0h1v1h-1zm4 0h1v1h-1zm4 0h1v1h-1zm4 0h1v1h-1zm4 0h1v1h-1zm4 0h1v1h-1zm4 0h1v1h-1zm4 0h1v1h-1zm4 0h1v1h-1zm4 0h1v1h-1zm4 0h1v1h-1zm4 0h1v1h-1zm4 0h1v1h-1zm4 0h1v1h-1zm4 0h1v1h-1zm4 0h1v1h-1zm4 0h1v2h-1zm-305 1h1v1h-1zm-76 1h1v1h-1zm305 0h1v1h-1zm-382 1h1v1h-1zm305 0h1v1h-1zm-76 1h1v1h-1zm-76 1h1v1h-1zm305 0h1v1h-1zm-381 1h1v1h-1zm305 0h1v1h-1zm-382 1h1v1h-1zm305 0h1v1h-1zm-76 1h1v1h-1zm-76 1h1v1h-1zm305 0h1v1h-1zm-381 1h1v2h-1zm305 0h1v1h-1zm-457 1h1v1h-1zm4 0h1v1h-1zm4 0h1v1h-1zm4 0h1v1h-1zm4 0h1v1h-1zm4 0h1v1h-1zm4 0h1v1h-1zm4 0h1v1h-1zm4 0h1v1h-1zm4 0h1v1h-1zm4 0h1v1h-1zm4 0h1v1h-1zm4 0h1v1h-1zm4 0h1v1h-1zm4 0h1v1h-1zm4 0h1v1h-1zm4 0h1v1h-1zm4 0h1v1h-1zm4 0h1v1h-1zm3 0h2v1h-2zm5 0h1v1h-1zm4 0h1v1h-1zm4 0h1v1h-1zm4 0h1v1h-1zm4 0h1v1h-1zm4 0h1v1h-1zm4 0h1v1h-1zm4 0h1v1h-1zm4 0h1v1h-1zm4 0h1v1h-1zm4 0h1v1h-1zm4 0h1v1h-1zm4 0h1v1h-1zm4 0h1v1h-1zm4 0h1v1h-1zm4 0h1v1h-1zm4 0h1v1h-1zm4 0h1v1h-1zm8 0h1v1h-1zm4 0h1v1h-1zm4 0h1v1h-1zm4 0h1v1h-1zm4 0h1v1h-1zm4 0h1v1h-1zm4 0h1v1h-1zm4 0h1v1h-1zm4 0h1v1h-1zm4 0h1v1h-1zm4 0h1v1h-1zm4 0h1v1h-1zm4 0h1v1h-1zm4 0h1v1h-1zm4 0h1v1h-1zm4 0h1v1h-1zm4 0h1v1h-1zm4 0h1v1h-1zm4 0h1v1h-1zm4 0h1v1h-1zm4 0h1v1h-1zm4 0h1v1h-1zm4 0h1v1h-1zm4 0h1v1h-1zm4 0h1v1h-1zm4 0h1v1h-1zm4 0h1v1h-1zm4 0h1v1h-1zm4 0h1v1h-1zm4 0h1v1h-1zm4 0h1v1h-1zm4 0h1v1h-1zm4 0h1v1h-1zm4 0h1v1h-1zm4 0h1v1h-1zm4 0h1v1h-1zm4 0h1v1h-1zm4 0h1v2h-1zm4 0h1v1h-1zm4 0h1v1h-1zm4 0h1v1h-1zm4 0h1v1h-1zm4 0h1v1h-1zm4 0h1v1h-1zm4 0h1v1h-1zm4 0h1v1h-1zm4 0h1v1h-1zm4 0h1v1h-1zm4 0h1v1h-1zm4 0h1v1h-1zm4 0h1v1h-1zm4 0h1v1h-1zm4 0h1v1h-1zm4 0h1v1h-1zm4 0h1v1h-1zm4 0h1v1h-1zm4 0h1v1h-1zm4 0h1v1h-1zm4 0h1v1h-1zm4 0h1v1h-1zm4 0h1v1h-1zm4 0h1v1h-1zm4 0h1v1h-1zm4 0h1v1h-1zm4 0h1v1h-1zm4 0h1v1h-1zm4 0h1v1h-1zm4 0h1v1h-1zm4 0h1v1h-1zm4 0h1v1h-1zm4 0h1v1h-1zm4 0h1v1h-1zm4 0h1v1h-1zm4 0h1v1h-1zm4 0h1v1h-1zm4 0h1v1h-1zm4 0h1v1h-1zm4 0h1v1h-1zm4 0h1v1h-1zm4 0h1v1h-1zm4 0h1v1h-1zm4 0h1v1h-1zm4 0h1v1h-1zm4 0h1v1h-1zm4 0h1v1h-1zm4 0h1v1h-1zm4 0h1v1h-1zm4 0h1v1h-1zm4 0h1v1h-1zm4 0h1v1h-1zm4 0h1v1h-1zm4 0h1v1h-1zm4 0h1v1h-1zm4 0h1v1h-1zm4 0h1v1h-1zm-304 2h1v1h-1zm305 0h1v1h-1zm-381 1h1v1h-1zm305 0h1v1h-1zm-382 1h1v1h-1zm305 0h1v1h-1zm-76 1h1v1h-1zm-76 1h1v1h-1zm305 0h1v1h-1zm-381 1h1v1h-1zm305 0h1v1h-1zm-382 1h1v1h-1zm305 0h1v1h-1zm-76 1h1v1h-1zm-76 1h1v1h-1zm305 0h1v1h-1zm-381 1h1v1h-1zm305 0h1v1h-1zm-382 1h1v1h-1zm305 0h1v1h-1zm-76 1h1v1h-1zm-76 1h1v1h-1zm305 0h1v1h-1zm-381 1h1v1h-1zm305 0h1v1h-1zm-382 1h1v1h-1zm305 0h1v1h-1zm-76 1h1v1h-1zm-76 1h1v1h-1zm305 0h1v1h-1zm-381 1h1v1h-1zm305 0h1v1h-1zm-382 1h1v1h-1zm305 0h1v1h-1zm-76 1h1v1h-1zm-76 1h1v1h-1zm305 0h1v1h-1zm-381 1h1v1h-1zm305 0h1v1h-1zm-382 1h1v1h-1zm229 1h1v1h-1zm-76 1h1v1h-1zm305 0h1v1h-1zm-381 1h1v1h-1zm305 0h1v1h-1zm-382 1h1v1h-1zm229 1h1v1h-1zm-76 1h1v1h-1zm305 0h1v1h-1zm-381 1h1v1h-1zm305 0h1v1h-1zm-382 1h1v1h-1zm229 1h1v1h-1zm229 1h1v1h-1zm-458 2h1v1h-1zm229 1h1v1h-1zm229 1h1v1h-1zm-458 2h1v1h-1zm229 1h1v1h-1zm229 1h1v1h-1zm-305 4h1v1h-1zm305 0h1v1h-1z"/>
<path class="k axis" d="M36 234h535v1h-535z"/>
</g>
<g id="panel-3"><title>Est. Planetary K-index</title>
<path class="k frame" d="M36 244h1v103h-1zm0 0h535v1h-535zm534 0h1v103h-1zm-534 102h535v1h-535z"/>
<path class="k tick" d="M112 245h1v2h-1zm77 0h1v2h-1zm76 0h1v2h-1zm76 0h1v2h-1zm76 0h1v2h-1zm77 0h1v2h-1z"/>
<path class="y barborder" d="M208 312h10v34h-10zm171 0h11v34h-11zm29 0h10v34h-10zm9 0h11v34h-11zm10 0h11v34h-11zm95 0h11v34h-11zm10 0h10v34h-10zm-496 11h11v23h-11zm10 0h10v23h-10zm95 0h10v23h-10zm48 0h10v23h-10zm28 0h11v23h-11zm10 0h10v23h-10zm47 0h11v23h-11zm10 0h10v23h-10zm38 0h11v23h-11zm38 0h11v23h-11zm38 0h11v23h-11zm39 0h10v23h-10zm38 0h10v23h-10zm28 0h11v23h-11zm38 0h11v23h-11zm10 0h10v23h-10zm-496 11h11v12h-11zm19 0h11v12h-11zm19 0h11v12h-11zm38 0h11v12h-11zm19 0h11v12h-11zm20 0h10v12h-10zm28 0h11v12h-11zm38 0h11v12h-11zm10 0h10v12h-10zm9 0h11v12h-11zm10 0h10v12h-10zm28 0h11v12h-11zm39 0h10v12h-10zm19 0h10v12h-10zm19 0h10v12h-10zm19 0h10v12h-10zm57 0h11v12h-11zm19 0h11v12h-11zm19 0h11v12h-11zm10 0h10v12h-10zm19 0h10v12h-10zm-448 10h10v2h-10zm19 0h10v2h-10zm19 0h10v2h-10zm9 0h11v2h-11zm10 0h10v2h-10zm38 0h11v2h-11zm19 0h11v2h-11zm124 0h11v2h-11zm10 0h10v2h-10zm28 0h11v2h-11zm115 0h10v2h-10z"/>
<path class="g barfill" d="M209 313h8v33h-8zm171 0h9v33h-9zm29 0h8v33h-8zm9 0h9v33h-9zm10 0h9v33h-9zm95 0h9v33h-9zm10 0h8v33h-8zm-496 11h9v22h-9zm10 0h8v22h-8zm95 0h8v22h-8zm48 0h8v22h-8zm28 0h9v22h-9zm10 0h8v22h-8zm47 0h9v22h-9zm10 0h8v22h-8zm38 0h9v22h-9zm38 0h9v22h-9zm38 0h9v22h-9zm39 0h8v22h-8zm38 0h8v22h-8zm28 0h9v22h-9zm38 0h9v22h-9zm10 0h8v22h-8zm-496 11h9v11h-9zm19 0h9v11h-9zm19 0h9v11h-9zm38 0h9v11h-9zm19 0h9v11h-9zm20 0h8v11h-8zm28 0h9v11h-9zm38 0h9v11h-9zm10 0h8v11h-8zm9 0h9v11h-9zm10 0h8v11h-8zm28 0h9v11h-9zm39 0h8v11h-8zm19 0h8v11h-8zm19 0h8v11h-8zm19 0h8v11h-8zm57 0h9v11h-9zm19 0h9v11h-9zm19 0h9v11h-9zm10 0h8v11h-8zm19 0h8v11h-8zm-448 10h8v1h-8zm19 0h8v1h-8zm19 0h8v1h-8zm9 0h9v1h-9zm10 0h8v1h-8zm38 0h9v1h-9zm19 0h9v1h-9zm124 0h9v1h-9zm10 0h8v1h-8zm28 0h9v1h-9zm115 0h8v1h-8z"/>
<path class="y ytick" d="M41 344h1v2h-1zm9 0h1v2h-1zm10 0h1v2h-1zm9 0h1v2h-1zm10 0h1v2h-1zm9 0h1v2h-1zm10 0h1v2h-1zm10 0h1v2h-1zm9 0h1v2h-1zm10 0h1v2h-1zm9 0h1v2h-1zm10 0h1v2h-1zm9 0h1v2h-1zm10 0h1v2h-1zm9 0h1v2h-1zm10 0h1v2h-1zm9 0h1v2h-1zm10 0h1v2h-1zm9 0h1v2h-1zm10 0h1v2h-1zm9 0h1v2h-1zm10 0h1v2h-1zm10 0h1v2h-1zm9 0h1v2h-1zm10 0h1v2h-1zm9 0h1v2h-1zm10 0h1v2h-1zm9 0h1v2h-1zm10 0h1v2h-1zm9 0h1v2h-1zm10 0h1v2h-1zm9 0h1v2h-1zm10 0h1v2h-1zm9 0h1v2h-1zm10 0h1v2h-1zm10 0h1v2h-1zm9 0h1v2h-1zm10 0h1v2h-1zm9 0h1v2h-1zm10 0h1v2h-1zm9 0h1v2h-1zm10 0h1v2h-1zm9 0h1v2h-1zm10 0h1v2h-1zm9 0h1v2h-1zm10 0h1v2h-1zm9 0h1v2h-1zm10 0h1v2h-1zm9 0h1v2h-1zm10 0h1v2h-1zm10 0h1v2h-1zm9 0h1v2h-1zm10 0h1v2h-1zm9 0h1v2h-1zm10 0h1v2h-1zm9 0h1v2h-1z"/>
<path class="d dots" d="M265 244h1v1h-1zm305 0h1v1h-1zm-381 1h1v1h-1zm305 0h1v1h-1zm-382 1h1v1h-1zm305 0h1v1h-1zm-76 1h1v1h-1zm-76 1h1v1h-1zm305 0h1v1h-1zm-381 1h1v1h-1zm305 0h1v1h-1zm-382 1h1v1h-1zm305 0h1v1h-1zm-76 1h1v1h-1zm-76 1h1v1h-1zm305 0h1v1h-1zm-381 1h1v1h-1zm305 0h1v1h-1zm-382 1h1v1h-1zm305 0h1v1h-1zm-76 1h1v1h-1zm-76 1h1v1h-1zm305 0h1v1h-1zm-381 1h1v1h-1zm305 0h1v1h-1zm-382 1h1v1h-1zm305 0h1v1h-1zm-76 1h1v1h-1zm-76 1h1v1h-1zm305 0h1v1h-1zm-381 1h1v1h-1zm305 0h1v1h-1zm-382 1h1v1h-1zm305 0h1v1h-1zm-76 1h1v1h-1zm-76 1h1v1h-1zm305 0h1v1h-1zm-381 1h1v2h-1zm305 0h1v1h-1zm-457 1h1v1h-1zm4 0h1v1h-1zm4 0h1v1h-1zm4 0h1v1h-1zm4 0h1v1h-1zm4 0h1v1h-1zm4 0h1v1h-1zm4 0h1v1h-1zm4 0h1v1h-1zm4 0h1v1h-1zm4 0h1v1h-1zm4 0h1v1h-1zm4 0h1v1h-1zm4 0h1v1h-1zm4 0h1v1h-1zm4 0h1v1h-1zm4 0h1v1h-1zm4 0h1v1h-1zm4 0h1v1h-1zm3 0h2v1h-2zm5 0h1v1h-1zm4 0h1v1h-1zm4 0h1v1h-1zm4 0h1v1h-1zm4 0h1v1h-1zm4 0h1v1h-1zm4 0h1v1h-1zm4 0h1v1h-1zm4 0h1v1h-1zm4 0h1v1h-1zm4 0h1v1h-1zm4 0h1v1h-1zm4 0h1v1h-1zm4 0h1v1h-1zm4 0h1v1h-1zm4 0h1v1h-1zm4 0h1v1h-1zm4 0h1v1h-1zm8 0h1v1h-1zm4 0h1v1h-1zm4 0h1v1h-1zm4 0h1v1h-1zm4 0h1v1h-1zm4 0h1v1h-1zm4 0h1v1h-1zm4 0h1v1h-1zm4 0h1v1h-1zm4 0h1v1h-1zm4 0h1v1h-1zm4 0h1v1h-1zm4 0h1v1h-1zm4 0h1v1h-1zm4 0h1v1h-1zm4 0h1v1h-1zm4 0h1v1h-1zm4 0h1v1h-1zm4 0h1v1h-1zm4 0h1v1h-1zm4 0h1v1h-1zm4 0h1v1h-1zm4 0h1v1h-1zm4 0h1v1h-1zm4 0h1v1h-1zm4 0h1v1h-1zm4 0h1v1h-1zm4 0h1v1h-1zm4 0h1v1h-1zm4 0h1v1h-1zm4 0h1v1h-1zm4 0h1v1h-1zm4 0h1v1h-1zm4 0h1v1h-1zm4 0h1v1h-1zm4 0h1v1h-1zm4 0h1v1h-1zm4 0h1v2h-1zm4 0h1v1h-1zm4 0h1v1h-1zm4 0h1v1h-1zm4 0h1v1h-1zm4 0h1v1h-1zm4 0h1v1h-1zm4 0h1v1h-1zm4 0h1v1h-1zm4 0h1v1h-1zm4 0h1v1h-1zm4 0h1v1h-1zm4 0h1v1h-1zm4 0h1v1h-1zm4 0h1v1h-1zm4 0h1v1h-1zm4 0h1v1h-1zm4 0h1v1h-1zm4 0h1v1h-1zm4 0h1v1h-1zm4 0h1v1h-1zm4 0h1v1h-1zm4 0h1v1h-1zm4 0h1v1h-1zm4 0h1v1h-1zm4 0h1v1h-1zm4 0h1v1h-1zm4 0h1v1h-1zm4 0h1v1h-1zm4 0h1v1h-1zm4 0h1v1h-1zm4 0h1v1h-1zm4 0h1v1h-1zm4 0h1v1h-1zm4 0h1v1h-1zm4 0h1v1h-1zm4 0h1v1h-1zm4 0h1v1h-1zm4 0h1v1h-1zm4 0h1v1h-1zm4 0h1v1h-1zm4 0h1v1h-1zm4 0h1v1h-1zm4 0h1v1h-1zm4 0h1v1h-1zm4 0h1v1h-1zm4 0h1v1h-1zm4 0h1v1h-1zm4 0h1v1h-1zm4 0h1v1h-1zm4 0h1v1h-1zm4 0h1v1h-1zm4 0h1v1h-1zm4 0h1v1h-1zm4 0h1v1h-1zm4 0h1v1h-1zm4 0h1v1h-1zm4 0h1v1h-1zm-304 2h1v1h-1zm305 0h1v1h-1zm-381 1h1v1h-1zm305 0h1v1h-1zm-382 1h1v1h-1zm305 0h1v1h-1zm-76 1h1v1h-1zm-76 1h1v1h-1zm305 0h1v1h-1zm-381 1h1v1h-1zm305 0h1v1h-1zm-382 1h1v1h-1zm305 0h1v1h-1zm-76 1h1v1h-1zm-76 1h1v1h-1zm305 0h1v1h-1zm-381 1h1v1h-1zm305 0h1v1h-1zm-382 1h1v1h-1zm305 0h1v1h-1zm-76 1h1v1h-1zm-76 1h1v1h-1zm305 0h1v1h-1zm-381 1h1v1h-1zm305 0h1v1h-1zm-382 1h1v1h-1zm305 0h1v1h-1zm-76 1h1v1h-1zm-76 1h1v1h-1zm305 0h1v1h-1zm-381 1h1v1h-1zm305 0h1v1h-1zm-382 1h1v1h-1zm305 0h1v1h-1zm-76 1h1v1h-1zm-76 1h1v1h-1zm305 0h1v1h-1zm-534 1h1v1h-1zm4 0h1v1h-1zm4 0h1v1h-1zm4 0h1v1h-1zm4 0h1v1h-1zm4 0h1v1h-1zm4 0h1v1h-1zm4 0h1v1h-1zm4 0h1v1h-1zm4 0h1v1h-1zm4 0h1v1h-1zm4 0h1v1h-1zm4 0h1v1h-1zm4 0h1v1h-1zm4 0h1v1h-1zm4 0h1v1h-1zm4 0h1v1h-1zm4 0h1v1h-1zm4 0h1v1h-1zm4 0h1v2h-1zm4 0h1v1h-1zm4 0h1v1h-1zm4 0h1v1h-1zm4 0h1v1h-1zm4 0h1v1h-1zm4 0h1v1h-1zm4 0h1v1h-1zm4 0h1v1h-1zm4 0h1v1h-1zm4 0h1v1h-1zm4 0h1v1h-1zm4 0h1v1h-1zm4 0h1v1h-1zm4 0h1v1h-1zm4 0h1v1h-1zm4 0h1v1h-1zm4 0h1v1h-1zm4 0h1v1h-1zm4 0h2v1h-2zm4 0h1v1h-1zm4 0h1v1h-1zm4 0h1v1h-1zm4 0h1v1h-1zm4 0h1v1h-1zm4 0h1v1h-1zm4 0h1v1h-1zm4 0h1v1h-1zm4 0h1v1h-1zm4 0h1v1h-1zm4 0h1v1h-1zm4 0h1v1h-1zm4 0h1v1h-1zm4 0h1v1h-1zm4 0h1v1h-1zm4 0h1v1h-1zm4 0h1v1h-1zm4 0h1v1h-1zm4 0h1v1h-1zm4 0h1v1h-1zm4 0h1v1h-1zm4 0h1v1h-1zm4 0h1v1h-1zm4 0h1v1h-1zm4 0h1v1h-1zm4 0h1v1h-1zm4 0h1v1h-1zm4 0h1v1h-1zm4 0h1v1h-1zm4 0h1v1h-1zm4 0h1v1h-1zm4 0h1v1h-1zm4 0h1v1h-1zm4 0h1v1h-1zm4 0h1v1h-1zm4 0h1v1h-1zm4 0h1v1h-1zm4 0h1v1h-1zm4 0h1v1h-1zm4 0h1v1h-1zm4 0h1v1h-1zm4 0h1v1h-1zm4 0h1v1h-1zm4 0h1v1h-1zm4 0h1v1h-1zm4 0h1v1h-1zm4 0h1v1h-1zm4 0h1v1h-1zm4 0h1v1h-1zm4 0h1v1h-1zm4 0h1v1h-1zm4 0h1v1h-1zm4 0h1v1h-1zm4 0h1v1h-1zm4 0h1v1h-1zm4 0h1v1h-1zm4 0h1v1h-1zm4 0h1v1h-1zm4 0h1v1h-1zm4 0h1v1h-1zm4 0h1v1h-1zm4 0h1v1h-1zm4 0h1v1h-1zm4 0h1v1h-1zm4 0h1v1h-1zm4 0h1v1h-1zm4 0h1v1h-1zm4 0h1v1h-1zm4 0h1v1h-1zm4 0h1v1h-1zm4 0h1v1h-1zm4 0h1v1h-1zm4 0h1v1h-1zm4 0h1v1h-1zm4 0h1v1h-1zm4 0h1v1h-1zm2 0h1v1h-1zm2 0h1v1h-1zm4 0h1v1h-1zm4 0h1v1h-1zm4 0h1v1h-1zm4 0h1v1h-1zm4 0h1v1h-1zm4 0h1v1h-1zm4 0h1v1h-1zm4 0h1v1h-1zm4 0h1v1h-1zm4 0h1v1h-1zm4 0h1v1h-1zm4 0h1v1h-1zm4 0h1v1h-1zm4 0h1v1h-1zm4 0h1v1h-1zm4 0h1v1h-1zm4 0h1v1h-1zm4 0h1v1h-1zm-151 1h1v1h-1zm-76 1h1v1h-1zm-76 1h1v1h-1zm305 0h1v1h-1zm-381 1h1v1h-1zm305 0h1v1h-1zm-382 1h1v1h-1zm305 0h1v1h-1zm-76 1h1v1h-1zm-76 1h1v1h-1zm305 0h1v1h-1zm-381 1h1v1h-1zm305 0h1v1h-1zm-382 1h1v1h-1zm305 0h1v1h-1zm-76 1h1v1h-1zm-302 1h1v1h-1zm4 0h1v1h-1zm4 0h1v1h-1zm4 0h1v1h-1zm4 0h1v1h-1zm4 0h1v1h-1zm4 0h1v1h-1zm4 0h1v1h-1zm4 0h1v1h-1zm4 0h1v1h-1zm4 0h1v1h-1zm4 0h1v1h-1zm4 0h1v1h-1zm4 0h1v1h-1zm4 0h1v1h-1zm4 0h1v1h-1zm4 0h1v1h-1zm4 0h1v1h-1zm4 0h1v1h-1zm4 0h1v1h-1zm4 0h1v1h-1zm4 0h1v1h-1zm4 0h1v1h-1zm4 0h1v1h-1zm4 0h1v1h-1zm4 0h1v1h-1zm4 0h1v1h-1zm4 0h1v1h-1zm4 0h1v1h-1zm4 0h1v1h-1zm4 0h1v1h-1zm4 0h1v1h-1zm4 0h1v1h-1zm4 0h1v1h-1zm4 0h1v1h-1zm4 0h1v1h-1zm4 0h1v1h-1zm4 0h1v1h-1zm4 0h1v1h-1zm4 0h1v1h-1zm4 0h1v1h-1zm4 0h1v1h-1zm4 0h1v1h-1zm4 0h1v1h-1zm4 0h1v1h-1zm4 0h1v1h-1zm4 0h1v1h-1zm4 0h1v1h-1zm4 0h1v1h-1zm4 0h1v1h-1zm4 0h1v1h-1zm4 0h1v1h-1zm4 0h1v1h-1zm4 0h1v1h-1zm4 0h1v1h-1zm4 0h1v1h-1zm4 0h1v1h-1zm2 0h1v1h-1zm2 0h1v1h-1zm4 0h1v1h-1zm4 0h1v1h-1zm4 0h1v1h-1zm4 0h1v1h-1zm4 0h1v1h-1zm4 0h1v1h-1zm4 0h1v1h-1zm4 0h1v1h-1zm4 0h1v1h-1zm4 0h1v1h-1zm4 0h1v1h-1zm4 0h1v1h-1zm4 0h1v1h-1zm4 0h1v1h-1zm4 0h1v1h-1zm4 0h1v1h-1zm4 0h1v1h-1zm4 0h1v1h-1zm4 0h1v1h-1zm4 0h1v1h-1zm4 0h1v1h-1zm4 0h1v1h-1zm4 0h1v1h-1zm4 0h1v1h-1zm4 0h1v1h-1zm4 0h1v1h-1zm4 0h1v1h-1zm4 0h1v1h-1zm4 0h1v1h-1zm4 0h1v1h-1zm4 0h1v1h-1zm4 0h1v1h-1zm4 0h1v1h-1zm4 0h1v1h-1zm4 0h1v1h-1zm4 0h1v1h-1zm4 0h1v1h-1zm4 0h1v1h-1zm4 0h1v1h-1zm4 0h1v1h-1zm4 0h1v1h-1zm4 0h1v1h-1zm4 0h1v1h-1zm4 0h1v1h-1zm4 0h1v1h-1zm4 0h1v1h-1zm4 0h1v1h-1zm4 0h1v1h-1zm4 0h1v1h-1zm4 0h1v1h-1zm4 0h1v1h-1zm4 0h1v1h-1zm4 0h1v1h-1zm4 0h1v1h-1zm4 0h1v1h-1zm4 0h1v1h-1zm4 0h1v1h-1zm4 0h1v1h-1zm4 0h1v1h-1zm4 0h1v1h-1zm4 0h1v1h-1zm4 0h1v1h-1zm4 0h1v1h-1zm4 0h1v1h-1zm4 0h1v1h-1zm4 0h1v1h-1zm4 0h1v1h-1zm4 0h1v1h-1zm4 0h1v1h-1zm4 0h1v1h-1zm4 0h1v1h-1zm4 0h1v1h-1zm4 0h1v1h-1zm4 0h1v1h-1zm4 0h1v1h-1zm3 0h1v1h-1zm-381 1h1v1h-1zm305 0h1v1h-1zm-382 1h1v1h-1zm305 0h1v1h-1zm-76 1h1v1h-1zm-76 1h1v1h-1zm305 0h1v1h-1zm-381 1h1v1h-1zm305 0h1v1h-1zm-382 1h1v1h-1zm305 0h1v1h-1zm-76 1h1v1h-1zm-76 1h1v1h-1zm305 0h1v1h-1zm-381 1h1v1h-1zm305 0h1v1h-1zm-382 1h1v1h-1zm305 0h1v1h-1zm-76 1h1v1h-1zm-76 1h1v1h-1zm305 0h1v1h-1zm-381 1h1v1h-1zm305 0h1v1h-1zm-382 1h1v1h-1zm229 1h1v1h-1zm-76 1h1v1h-1zm305 0h1v1h-1zm-381 1h1v1h-1zm305 0h1v1h-1zm-382 1h1v1h-1zm229 1h1v1h-1zm-76 1h1v1h-1zm305 0h1v1h-1zm-381 1h1v1h-1zm305 0h1v1h-1zm-382 1h1v1h-1zm229 1h1v1h-1zm-76 1h1v1h-1zm305 0h1v1h-1zm-76 1h1v1h-1zm-382 1h1v1h-1zm229 1h1v1h-1zm-76 1h1v1h-1zm305 0h1v1h-1zm-76 1h1v1h-1zm-382 1h1v1h-1zm229 1h1v1h-1zm-76 1h1v1h-1zm305 0h1v1h-1zm-76 1h1v1h-1zm-382 1h1v1h-1zm458 2h1v1h-1zm-458 2h1v1h-1zm458 2h1v1h-1zm-458 2h1v1h-1zm458 2h1v1h-1zm-458 2h1v1h-1zm305 0h1v1h-1z"/>
<path class="x0 dots" d="M417 314h1v1h-1zm0 4h1v1h-1zm0 4h1v1h-1zm-228 3h1v1h-1zm228 1h1v1h-1zm-228 3h1v1h-1zm228 1h1v1h-1zm-228 3h1v1h-1zm228 1h1v1h-1zm-76 1h1v1h-1zm-76 1h1v1h-1zm-76 1h1v1h-1zm305 0h1v1h-1zm-77 1h1v1h-1zm-76 1h1v1h-1zm-76 1h1v1h-1zm-76 1h1v1h-1zm305 0h1v1h-1zm-77 1h1v1h-1zm-76 1h1v1h-1zm-76 1h1v1h-1zm-76 1h1v1h-1zm305 0h1v1h-1z"/>
<path class="k axis" d="M36 346h535v1h-535z"/>
</g>
<g id="panel-4"><title>College K-index</title>
<path class="k frame" d="M36 356h1v103h-1zm0 0h535v1h-535zm534 0h1v103h-1zm-534 102h535v1h-535z"/>
<path class="k tick" d="M112 357h1v2h-1zm77 0h1v2h-1zm76 0h1v2h-1zm76 0h1v2h-1zm76 0h1v2h-1zm77 0h1v2h-1z"/>
<path class="y barborder" d="M522 390h11v68h-11zm-381 23h10v45h-10zm67 0h10v45h-10zm9 0h11v45h-11zm162 0h11v45h-11zm48 0h11v45h-11zm10 0h10v45h-10zm95 0h10v45h-10zm9 0h11v45h-11zm-314 11h10v34h-10zm133 0h11v34h-11zm10 0h10v34h-10zm19 0h10v34h-10zm86 0h10v34h-10zm-429 11h10v23h-10zm104 0h11v23h-11zm134 0h10v23h-10zm9 0h11v23h-11zm124 0h11v23h-11zm96 0h10v23h-10zm38 0h10v23h-10zm-496 12h11v11h-11zm10 0h10v11h-10zm124 0h10v11h-10zm47 0h11v11h-11zm29 0h10v11h-10zm9 0h11v11h-11zm48 0h11v11h-11zm86 0h10v11h-10zm38 0h11v11h-11zm19 0h11v11h-11zm19 0h11v11h-11zm10 0h10v11h-10zm9 0h11v11h-11zm-467 9h11v2h-11zm38 0h11v2h-11zm10 0h10v2h-10zm9 0h11v2h-11zm10 0h10v2h-10zm9 0h11v2h-11zm10 0h10v2h-10zm9 0h11v2h-11zm29 0h11v2h-11zm10 0h10v2h-10zm9 0h11v2h-11zm19 0h11v2h-11zm48 0h10v2h-10zm9 0h11v2h-11zm48 0h11v2h-11zm10 0h10v2h-10zm19 0h10v2h-10zm9 0h11v2h-11zm10 0h10v2h-10zm47 0h11v2h-11zm58 0h10v2h-10zm104 0h11v2h-11z"/>
<path class="g barfill" d="M228 425h8v33h-8zm133 0h9v33h-9zm10 0h8v33h-8zm19 0h8v33h-8zm86 0h8v33h-8zm-429 11h8v22h-8zm104 0h9v22h-9zm134 0h8v22h-8zm9 0h9v22h-9zm124 0h9v22h-9zm96 0h8v22h-8zm38 0h8v22h-8zm-496 12h9v10h-9zm10 0h8v10h-8zm124 0h8v10h-8zm47 0h9v10h-9zm29 0h8v10h-8zm9 0h9v10h-9zm48 0h9v10h-9zm86 0h8v10h-8zm38 0h9v10h-9zm19 0h9v10h-9zm19 0h9v10h-9zm10 0h8v10h-8zm9 0h9v10h-9zm-467 9h9v1h-9zm38 0h9v1h-9zm10 0h8v1h-8zm9 0h9v1h-9zm10 0h8v1h-8zm9 0h9v1h-9zm10 0h8v1h-8zm9 0h9v1h-9zm29 0h9v1h-9zm10 0h8v1h-8zm9 0h9v1h-9zm19 0h9v1h-9zm48 0h8v1h-8zm9 0h9v1h-9zm48 0h9v1h-9zm10 0h8v1h-8zm19 0h8v1h-8zm9 0h9v1h-9zm10 0h8v1h-8zm47 0h9v1h-9zm58 0h8v1h-8zm104 0h9v1h-9z"/>
<path class="o barfill" d="M142 414h8v44h-8zm67 0h8v44h-8zm9 0h9v44h-9zm162 0h9v44h-9zm48 0h9v44h-9zm10 0h8v44h-8zm95 0h8v44h-8zm9 0h9v44h-9z"/>
<path class="r barfill" d="M523 391h9v67h-9z"/>
<path class="y ytick" d="M41 456h1v2h-1zm9 0h1v2h-1zm10 0h1v2h-1zm9 0h1v2h-1zm10 0h1v2h-1zm9 0h1v2h-1zm10 0h1v2h-1zm10 0h1v2h-1zm9 0h1v2h-1zm10 0h1v2h-1zm9 0h1v2h-1zm10 0h1v2h-1zm9 0h1v2h-1zm10 0h1v2h-1zm9 0h1v2h-1zm10 0h1v2h-1zm9 0h1v2h-1zm10 0h1v2h-1zm9 0h1v2h-1zm10 0h1v2h-1zm9 0h1v2h-1zm10 0h1v2h-1zm10 0h1v2h-1zm9 0h1v2h-1zm10 0h1v2h-1zm9 0h1v2h-1zm10 0h1v2h-1zm9 0h1v2h-1zm10 0h1v2h-1zm9 0h1v2h-1zm10 0h1v2h-1zm9 0h1v2h-1zm10 0h1v2h-1zm9 0h1v2h-1zm10 0h1v2h-1zm10 0h1v2h-1zm9 0h1v2h-1zm10 0h1v2h-1zm9 0h1v2h-1zm10 0h1v2h-1zm9 0h1v2h-1zm10 0h1v2h-1zm9 0h1v2h-1zm10 0h1v2h-1zm9 0h1v2h-1zm10 0h1v2h-1zm9 0h1v2h-1zm10 0h1v2h-1zm9 0h1v2h-1zm10 0h1v2h-1zm10 0h1v2h-1zm9 0h1v2h-1zm10 0h1v2h-1zm9 0h1v2h-1zm10 0h1v2h-1zm9 0h1v2h-1z"/>
<path class="x0 dots" d="M522 401h1v1h-1zm-381 12h1v1h-1zm4 0h1v1h-1zm4 0h1v1h-1zm60 0h1v1h-1zm4 0h1v1h-1zm4 0h1v1h-1zm4 0h1v1h-1zm4 0h1v1h-1zm156 0h1v1h-1zm4 0h1v1h-1zm4 0h1v1h-1zm40 0h1v1h-1zm4 0h1v1h-1zm4 0h1v1h-1zm4 0h1v1h-1zm4 0h1v1h-1zm88 0h1v1h-1zm4 0h1v1h-1zm4 0h1v1h-1zm4 0h1v1h-1zm4 0h1v1h-1zm-132 23h1v1h-1zm0 4h1v1h-1zm0 4h1v1h-1zm-228 3h1v1h-1zm305 0h1v1h-1zm-77 1h1v1h-1zm-152 2h1v1h-1zm-76 1h1v1h-1zm305 0h1v1h-1zm-77 1h1v1h-1zm-152 2h1v1h-1zm-76 1h1v1h-1zm305 0h1v1h-1zm-382 1h1v1h-1zm305 0h1v1h-1zm-76 1h1v1h-1z"/>
<path class="d dots" d="M112 356h1v1h-1zm305 0h1v1h-1zm-76 1h1v1h-1zm-76 1h1v1h-1zm305 0h1v1h-1zm-381 1h1v1h-1zm305 0h1v1h-1zm-382 1h1v1h-1zm305 0h1v1h-1zm-76 1h1v1h-1zm-76 1h1v1h-1zm305 0h1v1h-1zm-381 1h1v1h-1zm305 0h1v1h-1zm-382 1h1v1h-1zm305 0h1v1h-1zm-76 1h1v1h-1zm-76 1h1v1h-1zm305 0h1v1h-1zm-381 1h1v1h-1zm305 0h1v1h-1zm-382 1h1v1h-1zm305 0h1v1h-1zm-76 1h1v1h-1zm-76 1h1v1h-1zm305 0h1v1h-1zm-381 1h1v1h-1zm305 0h1v1h-1zm-382 1h1v1h-1zm305 0h1v1h-1zm-76 1h1v1h-1zm-76 1h1v1h-1zm305 0h1v1h-1zm-381 1h1v1h-1zm305 0h1v1h-1zm-382 1h1v1h-1zm305 0h1v1h-1zm-76 1h1v1h-1zm-76 1h1v1h-1zm305 0h1v1h-1zm-531 1h1v1h-1zm4 0h1v1h-1zm4 0h1v1h-1zm4 0h1v1h-1zm4 0h1v1h-1zm4 0h1v1h-1zm4 0h1v1h-1zm4 0h1v1h-1zm4 0h1v1h-1zm4 0h1v1h-1zm4 0h1v1h-1zm4 0h1v1h-1zm4 0h1v1h-1zm4 0h1v1h-1zm4 0h1v1h-1zm4 0h1v1h-1zm4 0h1v1h-1zm4 0h1v1h-1zm4 0h1v1h-1zm4 0h1v1h-1zm4 0h1v1h-1zm4 0h1v1h-1zm4 0h1v1h-1zm4 0h1v1h-1zm4 0h1v1h-1zm4 0h1v1h-1zm4 0h1v1h-1zm4 0h1v1h-1zm4 0h1v1h-1zm4 0h1v1h-1zm4 0h1v1h-1zm4 0h1v1h-1zm4 0h1v1h-1zm4 0h1v1h-1zm4 0h1v1h-1zm4 0h1v1h-1zm4 0h1v1h-1zm4 0h1v1h-1zm2 0h1v1h-1zm2 0h1v1h-1zm4 0h1v1h-1zm4 0h1v1h-1zm4 0h1v1h-1zm4 0h1v1h-1zm4 0h1v1h-1zm4 0h1v1h-1zm4 0h1v1h-1zm4 0h1v1h-1zm4 0h1v1h-1zm4 0h1v1h-1zm4 0h1v1h-1zm4 0h1v1h-1zm4 0h1v1h-1zm4 0h1v1h-1zm4 0h1v1h-1zm4 0h1v1h-1zm4 0h1v1h-1zm4 0h1v1h-1zm4 0h1v1h-1zm4 0h1v1h-1zm4 0h1v1h-1zm4 0h1v1h-1zm4 0h1v1h-1zm4 0h1v1h-1zm4 0h1v1h-1zm4 0h1v1h-1zm4 0h1v1h-1zm4 0h1v1h-1zm4 0h1v1h-1zm4 0h1v1h-1zm4 0h1v1h-1zm4 0h1v1h-1zm4 0h1v1h-1zm4 0h1v1h-1zm4 0h1v1h-1zm4 0h1v1h-1zm4 0h1v1h-1zm4 0h1v1h-1zm4 0h1v1h-1zm4 0h1v1h-1zm4 0h1v1h-1zm4 0h1v1h-1zm4 0h1v1h-1zm4 0h1v1h-1zm4 0h1v1h-1zm4 0h1v1h-1zm4 0h1v1h-1zm4 0h1v1h-1zm4 0h1v1h-1zm4 0h1v1h-1zm4 0h1v1h-1zm4 0h1v1h-1zm4 0h1v1h-1zm4 0h1v1h-1zm4 0h1v1h-1zm4 0h1v1h-1zm4 0h1v1h-1zm4 0h1v1h-1zm4 0h1v1h-1zm4 0h1v1h-1zm4 0h1v1h-1zm4 0h1v1h-1zm4 0h1v1h-1zm4 0h1v1h-1zm4 0h1v1h-1zm4 0h1v1h-1zm4 0h1v1h-1zm4 0h1v1h-1zm4 0h1v1h-1zm4 0h1v1h-1zm4 0h1v1h-1zm4 0h1v1h-1zm4 0h1v1h-1zm4 0h1v1h-1zm4 0h1v1h-1zm3 0h2v1h-2zm5 0h1v1h-1zm4 0h1v1h-1zm4 0h1v1h-1zm4 0h1v1h-1zm4 0h1v1h-1zm4 0h1v1h-1zm4 0h1v1h-1zm4 0h1v1h-1zm4 0h1v1h-1zm4 0h1v1h-1zm4 0h1v1h-1zm4 0h1v1h-1zm4 0h1v1h-1zm4 0h1v1h-1zm4 0h1v1h-1zm4 0h1v1h-1zm4 0h1v1h-1zm4 0h1v1h-1zm-455 1h1v1h-1zm305 0h1v1h-1zm-76 1h1v1h-1zm-76 1h1v1h-1zm305 0h1v1h-1zm-381 1h1v1h-1zm305 0h1v1h-1zm-382 1h1v1h-1zm305 0h1v1h-1zm-76 1h1v1h-1zm-76 1h1v1h-1zm305 0h1v1h-1zm-381 1h1v1h-1zm305 0h1v1h-1zm-382 1h1v1h-1zm305 0h1v1h-1zm-76 1h1v1h-1zm-76 1h1v1h-1zm305 0h1v1h-1zm-381 1h1v1h-1zm305 0h1v1h-1zm-382 1h1v1h-1zm305 0h1v1h-1zm-76 1h1v1h-1zm-76 1h1v1h-1zm305 0h1v1h-1zm-381 1h1v1h-1zm305 0h1v1h-1zm-382 1h1v1h-1zm305 0h1v1h-1zm-76 1h1v1h-1zm-76 1h1v1h-1zm305 0h1v1h-1zm-381 1h1v1h-1zm305 0h1v1h-1zm-382 1h1v1h-1zm305 0h1v1h-1zm-379 1h1v1h-1zm4 0h1v1h-1zm4 0h1v1h-1zm4 0h1v1h-1zm4 0h1v1h-1zm4 0h1v1h-1zm4 0h1v1h-1zm4 0h1v1h-1zm4 0h1v1h-1zm4 0h1v1h-1zm4 0h1v1h-1zm4 0h1v1h-1zm4 0h1v1h-1zm4 0h1v1h-1zm4 0h1v1h-1zm4 0h1v1h-1zm4 0h1v1h-1zm4 0h1v1h-1zm4 0h1v1h-1zm4 0h1v1h-1zm4 0h1v1h-1zm4 0h1v1h-1zm4 0h1v1h-1zm4 0h1v1h-1zm4 0h1v1h-1zm4 0h1v1h-1zm4 0h1v1h-1zm4 0h1v1h-1zm4 0h1v1h-1zm4 0h1v1h-1zm4 0h1v1h-1zm4 0h1v1h-1zm4 0h1v1h-1zm4 0h1v1h-1zm4 0h1v1h-1zm4 0h1v1h-1zm4 0h1v1h-1zm4 0h1v1h-1zm4 0h1v1h-1zm4 0h1v1h-1zm4 0h1v1h-1zm4 0h1v1h-1zm4 0h1v1h-1zm4 0h1v1h-1zm4 0h1v1h-1zm4 0h1v1h-1zm4 0h1v1h-1zm4 0h1v1h-1zm4 0h1v1h-1zm4 0h1v1h-1zm4 0h1v1h-1zm4 0h1v1h-1zm4 0h1v1h-1zm4 0h1v1h-1zm4 0h1v1h-1zm4 0h1v1h-1zm4 0h1v1h-1zm4 0h1v1h-1zm4 0h1v1h-1zm4 0h1v1h-1zm4 0h1v1h-1zm4 0h1v1h-1zm4 0h1v1h-1zm4 0h1v1h-1zm4 0h1v1h-1zm4 0h1v1h-1zm4 0h1v1h-1zm4 0h1v1h-1zm4 0h1v1h-1zm4 0h1v1h-1zm4 0h1v1h-1zm4 0h1v1h-1zm4 0h1v1h-1zm4 0h1v1h-1zm4 0h1v1h-1zm4 0h1v1h-1zm3 0h2v1h-2zm5 0h1v1h-1zm4 0h1v1h-1zm4 0h1v1h-1zm4 0h1v1h-1zm4 0h1v1h-1zm4 0h1v1h-1zm4 0h1v1h-1zm4 0h1v1h-1zm4 0h1v1h-1zm4 0h1v1h-1zm4 0h1v1h-1zm4 0h1v1h-1zm4 0h1v1h-1zm4 0h1v1h-1zm4 0h1v1h-1zm4 0h1v1h-1zm4 0h1v1h-1zm4 0h1v1h-1zm4 0h1v1h-1zm4 0h1v1h-1zm4 0h1v1h-1zm4 0h1v1h-1zm4 0h1v1h-1zm4 0h1v1h-1zm4 0h1v1h-1zm4 0h1v1h-1zm4 0h1v1h-1zm4 0h1v1h-1zm4 0h1v1h-1zm4 0h1v1h-1zm4 0h1v1h-1zm4 0h1v1h-1zm4 0h1v1h-1zm4 0h1v1h-1zm4 0h1v1h-1zm4 0h1v1h-1zm4 0h1v1h-1zm4 0h1v1h-1zm4 0h1v1h-1zm4 0h1v1h-1zm4 0h1v1h-1zm4 0h1v1h-1zm4 0h1v1h-1zm4 0h1v1h-1zm16 0h1v1h-1zm4 0h1v1h-1zm4 0h1v1h-1zm4 0h1v1h-1zm4 0h1v1h-1zm4 0h1v1h-1zm4 0h1v1h-1zm4 0h1v1h-1zm4 0h1v1h-1zm4 0h1v2h-1zm-305 1h1v1h-1zm-76 1h1v1h-1zm305 0h1v1h-1zm-382 1h1v1h-1zm305 0h1v1h-1zm-76 1h1v1h-1zm-76 1h1v1h-1zm305 0h1v1h-1zm-381 1h1v1h-1zm305 0h1v1h-1zm-382 1h1v1h-1zm305 0h1v1h-1zm-76 1h1v1h-1zm-76 1h1v1h-1zm305 0h1v1h-1zm-381 1h1v1h-1zm305 0h1v1h-1zm-382 1h1v1h-1zm305 0h1v2h-1zm-380 1h1v1h-1zm4 0h1v1h-1zm4 0h1v1h-1zm4 0h1v1h-1zm4 0h1v1h-1zm4 0h1v1h-1zm4 0h1v1h-1zm4 0h1v1h-1zm4 0h1v1h-1zm4 0h1v1h-1zm4 0h1v1h-1zm4 0h1v1h-1zm4 0h1v1h-1zm4 0h1v1h-1zm4 0h1v1h-1zm4 0h1v1h-1zm4 0h1v1h-1zm4 0h1v1h-1zm4 0h1v1h-1zm4 0h1v1h-1zm4 0h1v1h-1zm4 0h1v1h-1zm4 0h1v1h-1zm4 0h1v1h-1zm4 0h1v1h-1zm4 0h1v1h-1zm16 0h1v1h-1zm4 0h1v1h-1zm4 0h1v1h-1zm4 0h1v1h-1zm4 0h1v1h-1zm4 0h1v1h-1zm4 0h1v1h-1zm4 0h1v1h-1zm4 0h1v1h-1zm4 0h1v1h-1zm4 0h1v1h-1zm4 0h1v1h-1zm4 0h1v1h-1zm4 0h1v1h-1zm24 0h1v1h-1zm4 0h1v1h-1zm4 0h1v1h-1zm4 0h1v1h-1zm4 0h1v1h-1zm4 0h1v1h-1zm4 0h1v1h-1zm4 0h1v1h-1zm4 0h1v1h-1zm4 0h1v2h-1zm4 0h1v1h-1zm4 0h1v1h-1zm4 0h1v1h-1zm4 0h1v1h-1zm4 0h1v1h-1zm4 0h1v1h-1zm4 0h1v1h-1zm4 0h1v1h-1zm4 0h1v1h-1zm4 0h1v1h-1zm4 0h1v1h-1zm4 0h1v1h-1zm4 0h1v1h-1zm4 0h1v1h-1zm4 0h1v1h-1zm4 0h1v1h-1zm4 0h1v1h-1zm4 0h1v1h-1zm4 0h1v1h-1zm4 0h1v1h-1zm4 0h1v1h-1zm4 0h1v1h-1zm4 0h1v1h-1zm4 0h1v1h-1zm4 0h1v1h-1zm4 0h1v1h-1zm4 0h1v1h-1zm4 0h1v1h-1zm16 0h1v1h-1zm4 0h1v1h-1zm4 0h1v1h-1zm4 0h1v1h-1zm4 0h1v1h-1zm4 0h1v1h-1zm8 0h1v1h-1zm4 0h1v1h-1zm24 0h1v1h-1zm4 0h1v1h-1zm4 0h1v1h-1zm4 0h1v1h-1zm4 0h1v1h-1zm4 0h1v1h-1zm4 0h1v1h-1zm4 0h1v1h-1zm4 0h1v1h-1zm4 0h1v1h-1zm4 0h1v1h-1zm4 0h1v1h-1zm4 0h1v1h-1zm4 0h1v1h-1zm4 0h1v1h-1zm4 0h1v1h-1zm4 0h1v1h-1zm4 0h1v1h-1zm4 0h1v1h-1zm32 0h1v1h-1zm4 0h1v1h-1zm4 0h1v1h-1zm4 0h1v1h-1zm4 0h1v1h-1zm1 1h1v1h-1zm-381 1h1v1h-1zm305 0h1v1h-1zm-382 1h1v1h-1zm305 0h1v1h-1zm-76 1h1v1h-1zm-76 1h1v1h-1zm305 0h1v1h-1zm-381 1h1v1h-1zm305 0h1v1h-1zm-382 1h1v1h-1zm305 0h1v1h-1zm-76 1h1v1h-1zm-76 1h1v1h-1zm305 0h1v1h-1zm-381 1h1v1h-1zm305 0h1v1h-1zm-382 1h1v1h-1zm305 0h1v1h-1zm-76 1h1v1h-1zm-76 1h1v1h-1zm305 0h1v1h-1zm-381 1h1v1h-1zm305 0h1v1h-1zm-382 1h1v1h-1zm305 0h1v1h-1zm-76 1h1v1h-1zm-76 1h1v1h-1zm305 0h1v1h-1zm-381 1h1v1h-1zm305 0h1v1h-1zm-382 1h1v1h-1zm305 0h1v1h-1zm-76 1h1v1h-1zm-76 1h1v1h-1zm305 0h1v1h-1zm-381 1h1v1h-1zm305 0h1v1h-1zm-382 1h1v1h-1zm229 1h1v1h-1zm-76 1h1v1h-1zm305 0h1v1h-1zm-381 1h1v1h-1zm305 0h1v1h-1zm-382 1h1v1h-1zm229 1h1v1h-1zm-76 1h1v1h-1zm305 0h1v1h-1zm-381 1h1v1h-1zm305 0h1v1h-1zm-382 1h1v1h-1zm229 1h1v1h-1zm-76 1h1v1h-1zm305 0h1v1h-1zm-458 2h1v1h-1zm229 1h1v1h-1zm229 1h1v1h-1zm-458 2h1v1h-1zm229 1h1v1h-1zm229 1h1v1h-1zm-305 4h1v1h-1zm305 0h1v1h-1z"/>
<path class="x1 dots" d="M526 401h1v1h-1zm4 0h1v1h-1zm-5 12h1v1h-1zm4 0h1v1h-1z"/>
<path class="k axis" d="M36 458h535v1h-535z"/>
</g>
<path class="g legend" d="M384 5h13v10h-13z"/>
<path class="o legend" d="M444 5h13v10h-13z"/>
<path class="r legend" d="M486 5h13v10h-13z"/>
<path class="p legend" d="M546 5h13v10h-13z"/>
<g class="t title"><path d="M84 4h1v1h-1zm22 0h1v1h-1zm-104 1h6v1h-6zm21 0h1v3h-1zm40 0h1v5h-1zm6 0h1v1h-1zm15 0h2v1h-2zm18 0h1v3h-1zm3 0h2v1h-2zm37 0h3v1h-3zm27 0h1v9h-1zm25 0h1v3h-1zm12 0h8v1h-8zm22 0h1v3h-1zm-222 1h1v1h-1zm62 0h1v1h-1zm74 0h1v2h-1zm70 0h1v2h-1zm-207 1h1v1h-1zm62 0h1v1h-1zm-63 1h3v1h-3zm19 0h5v1h-5zm10 0h4v1h-4zm7 0h1v6h-1zm5 0h1v6h-1zm4 0h1v1h-1zm2 0h3v1h-3zm15 0h1v1h-1zm18 0h1v7h-1zm4 0h6v1h-6zm10 0h5v1h-5zm8 0h1v7h-1zm4 0h5v1h-5zm9 0h4v1h-4zm7 0h5v1h-5zm14 0h5v1h-5zm8 0h4v1h-4zm8 0h4v1h-4zm22 0h5v1h-5zm8 0h5v1h-5zm7 0h4v1h-4zm18 0h1v2h-1zm13 0h5v1h-5zm9 0h5v1h-5zm7 0h1v2h-1zm6 0h1v2h-1zm2 0h5v1h-5zm-241 1h1v2h-1zm16 0h1v6h-1zm4 0h1v1h-1zm5 0h1v2h-1zm5 0h1v5h-1zm12 0h2v1h-2zm16 0h1v1h-1zm23 0h1v6h-1zm5 0h1v6h-1zm4 0h1v2h-1zm5 0h1v5h-1zm7 0h1v5h-1zm5 0h1v1h-1zm4 0h1v2h-1zm4 0h1v1h-1zm4 0h1v2h-1zm5 0h1v1h-1zm11 0h1v6h-1zm5 0h1v2h-1zm5 0h1v5h-1zm4 0h1v6h-1zm21 0h1v5h-1zm5 0h1v5h-1zm3 0h1v1h-1zm5 0h1v1h-1zm4 0h1v5h-1zm29 0h1v5h-1zm5 0h1v5h-1zm4 0h1v5h-1zm5 0h1v5h-1zm11 0h1v2h-1zm5 0h1v1h-1zm-242 1h9v1h-9zm17 0h1v5h-1zm21 0h1v5h-1zm14 0h2v1h-2zm3 0h1v1h-1zm6 0h10v1h-10zm51 0h1v1h-1zm63 0h1v1h-1zm24 0h1v2h-1zm31 0h1v2h-1zm4 0h1v2h-1zm-237 1h1v2h-1zm23 0h1v2h-1zm32 0h1v4h-1zm4 0h1v2h-1zm29 0h1v2h-1zm21 0h7v1h-7zm10 0h3v1h-3zm19 0h1v2h-1zm41 0h3v1h-3zm62 0h4v1h-4zm-132 1h1v1h-1zm13 0h1v1h-1zm60 0h1v2h-1zm19 0h1v2h-1zm33 0h1v2h-1zm2 0h1v2h-1zm8 0h1v1h-1zm-251 1h2v1h-2zm6 0h1v1h-1zm25 0h1v1h-1zm36 0h1v1h-1zm29 0h1v1h-1zm17 0h1v1h-1zm4 0h1v1h-1zm5 0h1v1h-1zm3 0h1v1h-1zm5 0h1v1h-1zm16 0h1v1h-1zm38 0h1v1h-1zm63 0h1v1h-1zm5 0h1v1h-1zm-251 1h5v1h-5zm31 0h4v1h-4zm8 0h5v1h-5zm28 0h1v1h-1zm29 0h5v1h-5zm12 0h5v1h-5zm9 0h4v1h-4zm7 0h5v1h-5zm22 0h4v1h-4zm21 0h7v1h-7zm9 0h5v1h-5zm8 0h5v1h-5zm9 0h2v1h-2zm13 0h1v1h-1zm16 0h5v1h-5zm9 0h5v1h-5zm10 0h1v2h-1zm5 0h5v1h-5zm-6 2h1v1h-1zm-1 1h1v1h-1zm-2 1h2v1h-2z"/><text class="h" x="0" y="14">3-hour K-indices for Last 7 days</text></g>
<g class="t legend"><path d="M337 7h1v7h-1zm34 0h1v2h-1zm-27 2h2v1h-2zm6 0h3v1h-3zm6 0h2v1h-2zm5 0h1v1h-1zm2 0h2v1h-2zm6 0h3v1h-3zm5 0h1v1h-1zm-31 1h1v1h-1zm3 0h1v1h-1zm3 0h1v1h-1zm3 0h1v4h-1zm3 0h2v1h-2zm3 0h1v1h-1zm3 0h2v1h-2zm4 0h1v5h-1zm3 0h1v1h-1zm3 0h1v4h-1zm3 0h2v1h-2zm-32 1h5v1h-5zm6 0h1v2h-1zm7 0h5v1h-5zm6 0h1v4h-1zm6 0h1v2h-1zm-25 1h1v1h-1zm13 0h1v2h-1zm-12 1h1v1h-1zm3 0h1v1h-1zm3 0h1v1h-1zm10 0h1v1h-1zm9 0h1v1h-1zm6 0h1v1h-1zm-37 1h5v1h-5zm6 0h4v1h-4zm6 0h4v1h-4zm7 0h3v1h-3zm12 0h4v1h-4zm6 0h2v1h-2zm-22 1h1v1h-1zm-3 1h4v1h-4z"/><text class="h" x="336" y="14">Legend:</text></g>
<g class="t legend"><path d="M404 7h3v1h-3zm15 0h4v1h-4zm-16 1h1v6h-1zm4 0h1v6h-1zm14 0h1v2h-1zm-1 2h3v1h-3zm-10 1h7v1h-7zm13 0h1v2h-1zm-5 2h1v1h-1zm4 0h1v1h-1zm-18 1h3v1h-3zm15 0h4v1h-4z"/><text class="h" x="402" y="14">0-3</text></g>
<g class="t legend"><path d="M466 7h1v1h-1zm-1 1h2v2h-2zm-1 2h1v2h-1zm2 0h1v2h-1zm-3 2h6v1h-6zm3 1h1v2h-1z"/><text class="h" x="462" y="14">4</text></g>
<g class="t legend"><path d="M505 7h5v1h-5zm11 0h4v1h-4zm-11 1h1v1h-1zm10 0h1v2h-1zm4 0h1v1h-1zm-14 1h3v1h-3zm0 1h1v1h-1zm3 0h2v1h-2zm7 0h4v1h-4zm-6 1h1v3h-1zm6 0h1v3h-1zm4 0h1v3h-1zm-14 2h1v1h-1zm7 0h1v3h-1zm-7 1h4v1h-4zm11 0h3v1h-3z"/><text class="h" x="504" y="14">5,6</text></g>
<g class="t legend"><path d="M565 7h5v1h-5zm16 0h3v1h-3zm-12 1h1v1h-1zm11 0h1v3h-1zm4 0h1v3h-1zm-16 1h1v2h-1zm-1 2h1v2h-1zm5 0h7v1h-7zm9 0h4v1h-4zm3 1h1v2h-1zm-18 1h1v2h-1zm14 0h1v1h-1zm1 1h3v1h-3z"/><text class="h" x="564" y="14">7-9</text></g>
<g class="t ytick"><path d="M29 115h3v1h-3zm-1 1h1v5h-1zm4 0h1v5h-1zm-3 5h3v1h-3z"/><text class="h" x="27" y="121">0</text></g>
<g class="t ytick"><path d="M30 107h1v1h-1zm-1 1h2v1h-2zm1 1h1v5h-1z"/><text class="h" x="27" y="113">1</text></g>
<g class="t ytick"><path d="M28 96h4v1h-4zm0 1h1v1h-1zm4 0h1v1h-1zm-1 1h2v1h-2zm0 1h1v1h-1zm-1 1h1v1h-1zm-1 1h1v1h-1zm-1 1h5v1h-5z"/><text class="h" x="27" y="102">2</text></g>
<g class="t ytick"><path d="M28 85h5v1h-5zm3 1h1v1h-1zm-1 1h2v1h-2zm1 1h2v1h-2zm1 1h1v2h-1zm-4 1h1v1h-1zm0 1h4v1h-4z"/><text class="h" x="27" y="91">3</text></g>
<g class="t ytick"><path d="M31 73h1v1h-1zm-1 1h2v2h-2zm-1 2h1v1h-1zm2 0h1v1h-1zm-3 1h5v1h-5zm3 1h1v2h-1z"/><text class="h" x="27" y="79">4</text></g>
<g class="t ytick"><path d="M28 62h4v1h-4zm0 1h1v1h-1zm0 1h4v1h-4zm0 1h1v1h-1zm4 0h1v3h-1zm-4 2h1v1h-1zm0 1h4v1h-4z"/><text class="h" x="27" y="68">5</text></g>
<g class="t ytick"><path d="M29 51h3v1h-3zm-1 1h1v2h-1zm4 0h1v1h-1zm-2 1h1v1h-1zm-2 1h2v1h-2zm3 0h2v1h-2zm-3 1h1v2h-1zm4 0h1v2h-1zm-3 2h3v1h-3z"/><text class="h" x="27" y="57">6</text></g>
<g class="t ytick"><path d="M28 39h5v1h-5zm4 1h1v1h-1zm-1 1h1v2h-1zm-1 2h1v2h-1zm-1 2h1v1h-1z"/><text class="h" x="27" y="45">7</text></g>
<g class="t ytick"><path d="M28 28h4v1h-4zm0 1h1v1h-1zm4 0h1v1h-1zm-4 1h2v1h-2zm3 0h1v1h-1zm-3 1h5v1h-5zm0 1h1v2h-1zm4 0h1v2h-1zm-4 2h5v1h-5z"/><text class="h" x="27" y="34">8</text></g>
<g class="t ytick"><path d="M29 19h3v1h-3zm-1 1h1v2h-1zm3 0h1v1h-1zm1 1h1v1h-1zm-4 1h2v1h-2zm3 0h2v1h-2zm-1 1h1v1h-1zm2 0h1v1h-1zm-4 1h1v1h-1zm3 0h1v1h-1zm-3 1h4v1h-4z"/><text class="h" x="27" y="25">9</text></g>
<g class="t ytick"><path d="M29 228h3v1h-3zm-1 1h1v5h-1zm4 0h1v5h-1zm-3 5h3v1h-3z"/><text class="h" x="27" y="234">0</text></g>
<g class="t ytick"><path d="M30 220h1v1h-1zm-1 1h2v1h-2zm1 1h1v5h-1z"/><text class="h" x="27" y="226">1</text></g>
<g class="t ytick"><path d="M28 208h4v1h-4zm0 1h1v1h-1zm4 0h1v1h-1zm-1 1h2v1h-2zm0 1h1v1h-1zm-1 1h1v1h-1zm-1 1h1v1h-1zm-1 1h5v1h-5z"/><text class="h" x="27" y="214">2</text></g>
<g class="t ytick"><path d="M28 197h5v1h-5zm3 1h1v1h-1zm-1 1h2v1h-2zm1 1h2v1h-2zm1 1h1v2h-1zm-4 1h1v1h-1zm0 1h4v1h-4z"/><text class="h" x="27" y="203">3</text></g>
<g class="t ytick"><path d="M31 186h1v1h-1zm-1 1h2v2h-2zm-1 2h1v1h-1zm2 0h1v1h-1zm-3 1h5v1h-5zm3 1h1v2h-1z"/><text class="h" x="27" y="192">4</text></g>
<g class="t ytick"><path d="M28 174h4v1h-4zm0 1h1v1h-1zm0 1h4v1h-4zm0 1h1v1h-1zm4 0h1v3h-1zm-4 2h1v1h-1zm0 1h4v1h-4z"/><text class="h" x="27" y="180">5</text></g>
<g class="t ytick"><path d="M29 163h3v1h-3zm-1 1h1v2h-1zm4 0h1v1h-1zm-2 1h1v1h-1zm-2 1h2v1h-2zm3 0h2v1h-2zm-3 1h1v2h-1zm4 0h1v2h-1zm-3 2h3v1h-3z"/><text class="h" x="27" y="169">6</text></g>
<g class="t ytick"><path d="M28 152h5v1h-5zm4 1h1v1h-1zm-1 1h1v2h-1zm-1 2h1v2h-1zm-1 2h1v1h-1z"/><text class="h" x="27" y="158">7</text></g>
<g class="t ytick"><path d="M28 140h4v1h-4zm0 1h1v1h-1zm4 0h1v1h-1zm-4 1h2v1h-2zm3 0h1v1h-1zm-3 1h5v1h-5zm0 1h1v2h-1zm4 0h1v2h-1zm-4 2h5v1h-5z"/><text class="h" x="27" y="146">8</text></g>
<g class="t ytick"><path d="M29 131h3v1h-3zm-1 1h1v2h-1zm3 0h1v1h-1zm1 1h1v1h-1zm-4 1h2v1h-2zm3 0h2v1h-2zm-1 1h1v1h-1zm2 0h1v1h-1zm-4 1h1v1h-1zm3 0h1v1h-1zm-3 1h4v1h-4z"/><text class="h" x="27" y="137">9</text></g>
<g class="t ytick"><path d="M29 340h3v1h-3zm-1 1h1v5h-1zm4 0h1v5h-1zm-3 5h3v1h-3z"/><text class="h" x="27" y="346">0</text></g>
<g class="t ytick"><path d="M30 332h1v1h-1zm-1 1h2v1h-2zm1 1h1v5h-1z"/><text class="h" x="27" y="338">1</text></g>
<g class="t ytick"><path d="M28 320h4v1h-4zm0 1h1v1h-1zm4 0h1v1h-1zm-1 1h2v1h-2zm0 1h1v1h-1zm-1 1h1v1h-1zm-1 1h1v1h-1zm-1 1h5v1h-5z"/><text class="h" x="27" y="326">2</text></g>
<g class="t ytick"><path d="M28 309h5v1h-5zm3 1h1v1h-1zm-1 1h2v1h-2zm1 1h2v1h-2zm1 1h1v2h-1zm-4 1h1v1h-1zm0 1h4v1h-4z"/><text class="h" x="27" y="315">3</text></g>
<g class="t ytick"><path d="M31 298h1v1h-1zm-1 1h2v2h-2zm-1 2h1v1h-1zm2 0h1v1h-1zm-3 1h5v1h-5zm3 1h1v2h-1z"/><text class="h" x="27" y="304">4</text></g>
<g class="t ytick"><path d="M28 286h4v1h-4zm0 1h1v1h-1zm0 1h4v1h-4zm0 1h1v1h-1zm4 0h1v3h-1zm-4 2h1v1h-1zm0 1h4v1h-4z"/><text class="h" x="27" y="292">5</text></g>
<g class="t ytick"><path d="M29 275h3v1h-3zm-1 1h1v2h-1zm4 0h1v1h-1zm-2 1h1v1h-1zm-2 1h2v1h-2zm3 0h2v1h-2zm-3 1h1v2h-1zm4 0h1v2h-1zm-3 2h3v1h-3z"/><text class="h" x="27" y="281">6</text></g>
<g class="t ytick"><path d="M28 264h5v1h-5zm4 1h1v1h-1zm-1 1h1v2h-1zm-1 2h1v2h-1zm-1 2h1v1h-1z"/><text class="h" x="27" y="270">7</text></g>
<g class="t ytick"><path d="M28 252h4v1h-4zm0 1h1v1h-1zm4 0h1v1h-1zm-4 1h2v1h-2zm3 0h1v1h-1zm-3 1h5v1h-5zm0 1h1v2h-1zm4 0h1v2h-1zm-4 2h5v1h-5z"/><text class="h" x="27" y="258">8</text></g>
<g class="t ytick"><path d="M29 243h3v1h-3zm-1 1h1v2h-1zm3 0h1v1h-1zm1 1h1v1h-1zm-4 1h2v1h-2zm3 0h2v1h-2zm-1 1h1v1h-1zm2 0h1v1h-1zm-4 1h1v1h-1zm3 0h1v1h-1zm-3 1h4v1h-4z"/><text class="h" x="27" y="249">9</text></g>
<g class="t ytick"><path d="M29 452h3v1h-3zm-1 1h1v5h-1zm4 0h1v5h-1zm-3 5h3v1h-3z"/><text class="h" x="27" y="458">0</text></g>
<g class="t ytick"><path d="M30 444h1v1h-1zm-1 1h2v1h-2zm1 1h1v5h-1z"/><text class="h" x="27" y="450">1</text></g>
<g class="t ytick"><path d="M28 433h4v1h-4zm0 1h1v1h-1zm4 0h1v1h-1zm-1 1h2v1h-2zm0 1h1v1h-1zm-1 1h1v1h-1zm-1 1h1v1h-1zm-1 1h5v1h-5z"/><text class="h" x="27" y="439">2</text></g>
<g class="t ytick"><path d="M28 421h5v1h-5zm3 1h1v1h-1zm-1 1h2v1h-2zm1 1h2v1h-2zm1 1h1v2h-1zm-4 1h1v1h-1zm0 1h4v1h-4z"/><text class="h" x="27" y="427">3</text></g>
<g class="t ytick"><path d="M31 410h1v1h-1zm-1 1h2v2h-2zm-1 2h1v1h-1zm2 0h1v1h-1zm-3 1h5v1h-5zm3 1h1v2h-1z"/><text class="h" x="27" y="416">4</text></g>
<g class="t ytick"><path d="M28 399h4v1h-4zm0 1h1v1h-1zm0 1h4v1h-4zm0 1h1v1h-1zm4 0h1v3h-1zm-4 2h1v1h-1zm0 1h4v1h-4z"/><text class="h" x="27" y="405">5</text></g>
<g class="t ytick"><path d="M29 387h3v1h-3zm-1 1h1v2h-1zm4 0h1v1h-1zm-2 1h1v1h-1zm-2 1h2v1h-2zm3 0h2v1h-2zm-3 1h1v2h-1zm4 0h1v2h-1zm-3 2h3v1h-3z"/><text class="h" x="27" y="393">6</text></g>
<g class="t ytick"><path d="M28 376h5v1h-5zm4 1h1v1h-1zm-1 1h1v2h-1zm-1 2h1v2h-1zm-1 2h1v1h-1z"/><text class="h" x="27" y="382">7</text></g>
<g class="t ytick"><path d="M28 365h4v1h-4zm0 1h1v1h-1zm4 0h1v1h-1zm-4 1h2v1h-2zm3 0h1v1h-1zm-3 1h5v1h-5zm0 1h1v2h-1zm4 0h1v2h-1zm-4 2h5v1h-5z"/><text class="h" x="27" y="371">8</text></g>
<g class="t ytick"><path d="M29 356h3v1h-3zm-1 1h1v2h-1zm3 0h1v1h-1zm1 1h1v1h-1zm-4 1h2v1h-2zm3 0h2v1h-2zm-1 1h1v1h-1zm2 0h1v1h-1zm-4 1h1v1h-1zm3 0h1v1h-1zm-3 1h4v1h-4z"/><text class="h" x="27" y="362">9</text></g>
<g class="t yname"><path d="M7 52h1v3h-1zm0 3h6v1h-6zm0 3h3v1h-3zm4 0h1v1h-1zm-4 1h1v3h-1zm2 0h1v3h-1zm3 0h1v3h-1zm-4 3h2v1h-2zm3 0h1v1h-1zm-2 1h2v1h-2zm-5 2h9v1h-9zm3 1h1v3h-1zm5 0h1v3h-1zm-5 3h2v1h-2zm4 0h2v1h-2zm-2 1h2v1h-2zm-5 2h9v1h-9zm3 3h6v1h-6zm4 1h1v1h-1zm1 1h1v3h-1zm-5 3h5v1h-5zm2 2h2v1h-2zm-2 1h2v1h-2zm4 0h2v1h-2zm-4 1h1v3h-1zm5 0h1v3h-1zm-4 3h4v1h-4zm-2 2h1v1h-1zm3 0h2v1h-2zm-5 1h2v1h-2zm3 0h3v1h-3zm4 0h2v1h-2zm-7 1h1v4h-1zm4 0h1v4h-1zm4 0h1v4h-1zm-8 4h9v1h-9z"/><text class="h" transform="translate(12 96) rotate(-90)">Boulder</text></g>
<g class="t yname"><path d="M7 144h8v1h-8zm0 1h1v3h-1zm5 0h1v3h-1zm2 0h2v1h-2zm1 1h1v1h-1zm-1 1h1v1h-1zm-6 1h4v1h-4zm-1 2h1v2h-1zm0 2h2v1h-2zm0 1h6v1h-6zm0 3h6v1h-6zm4 1h2v1h-2zm1 1h1v2h-1zm-5 2h6v1h-6zm1 3h4v1h-4zm-1 1h1v3h-1zm5 0h1v3h-1zm-8 3h9v1h-9zm3 3h2v1h-2zm3 0h3v1h-3zm-3 1h1v3h-1zm2 0h1v3h-1zm3 0h1v3h-1zm-5 3h3v1h-3zm4 0h2v1h-2zm-4 2h1v1h-1zm5 0h1v1h-1zm-4 1h1v2h-1zm3 0h1v1h-1zm-1 1h1v1h-1zm-1 1h1v1h-1zm-5 1h9v1h-9zm3 3h2v1h-2zm4 0h2v1h-2zm-4 1h1v3h-1zm5 0h1v3h-1zm-4 3h4v1h-4zm-4 2h1v2h-1zm3 1h6v1h-6zm0 2h1v2h-1zm0 2h2v1h-2zm0 1h6v1h-6zm1 2h2v1h-2zm3 0h1v1h-1zm-4 1h1v4h-1zm2 0h1v4h-1zm3 0h1v4h-1zm-4 4h4v1h-4zm-4 3h9v1h-9zm3 1h1v3h-1zm5 0h1v3h-1zm-4 3h4v1h-4zm0 2h2v1h-2zm3 0h1v1h-1zm-4 1h1v4h-1zm2 0h1v4h-1zm3 0h1v4h-1zm-4 4h4v1h-4zm-1 1h1v3h-1zm0 3h6v1h-6zm-3 2h1v5h-1zm4 2h1v3h-1zm-4 3h9v1h-9z"/><text class="h" transform="translate(12 229) rotate(-90)">Fredericksburg</text></g>
<g class="t yname"><path d="M7 259h1v1h-1zm1 1h2v1h-2zm2 1h2v1h-2zm1 1h4v1h-4zm-2 1h2v1h-2zm5 0h1v1h-1zm-7 1h2v1h-2zm8 0h1v1h-1zm-8 1h1v3h-1zm0 3h6v1h-6zm0 3h6v1h-6zm0 1h1v3h-1zm5 0h1v3h-1zm-5 3h2v1h-2zm4 0h2v1h-2zm-2 1h2v1h-2zm-2 2h1v2h-1zm5 0h1v2h-1zm-8 2h8v1h-8zm3 1h1v1h-1zm0 2h3v1h-3zm4 0h2v1h-2zm-4 1h1v3h-1zm2 0h1v3h-1zm3 0h1v3h-1zm-4 3h4v1h-4zm-1 3h6v1h-6zm0 1h1v3h-1zm0 3h6v1h-6zm0 3h6v1h-6zm0 1h1v3h-1zm5 0h1v3h-1zm-4 3h4v1h-4zm-4 3h9v1h-9zm0 3h5v1h-5zm0 1h1v4h-1zm4 0h1v4h-1zm-4 4h9v1h-9zm8 9h1v1h-1zm-5 3h1v2h-1zm5 0h1v2h-1zm-8 2h9v1h-9zm3 1h1v1h-1zm0 2h2v1h-2zm3 0h3v1h-3zm-3 1h1v3h-1zm2 0h1v3h-1zm3 0h1v3h-1zm-5 3h3v1h-3zm4 0h2v1h-2zm-7 2h1v5h-1zm8 0h1v5h-1zm-4 2h1v3h-1zm-4 3h9v1h-9z"/><text class="h" transform="translate(12 342) rotate(-90)">Est. Planetary</text></g>
<g class="t yname"><path d="M7 387h3v1h-3zm4 0h1v1h-1zm-4 1h1v3h-1zm2 0h1v3h-1zm3 0h1v3h-1zm-4 3h2v1h-2zm3 0h1v1h-1zm-2 1h2v1h-2zm-2 2h7v1h-7zm0 1h1v3h-1zm5 0h1v3h-1zm2 0h1v1h-1zm1 1h1v2h-1zm-8 2h2v1h-2zm4 0h2v1h-2zm3 0h1v1h-1zm-5 1h2v1h-2zm-2 2h3v1h-3zm4 0h1v1h-1zm-4 1h1v3h-1zm2 0h1v3h-1zm3 0h1v3h-1zm-4 3h4v1h-4zm-4 3h9v1h-9zm0 3h9v1h-9zm4 3h4v1h-4zm-1 1h1v3h-1zm5 0h1v3h-1zm-5 3h2v1h-2zm4 0h2v1h-2zm-2 1h2v1h-2zm-4 2h2v1h-2zm5 0h2v1h-2zm-6 1h1v4h-1zm8 0h1v4h-1zm-7 4h2v1h-2zm5 0h2v1h-2zm-3 1h3v1h-3z"/><text class="h" transform="translate(12 428) rotate(-90)">College</text></g>
<g class="t xlabel"><path d="M18 465h1v2h-1zm5 0h1v2h-1zm22 0h1v1h-1zm5 0h4v1h-4zm-7 1h3v1h-3zm6 0h1v6h-1zm4 0h1v1h-1zm-35 1h2v4h-2zm4 0h2v2h-2zm5 0h2v1h-2zm3 0h1v1h-1zm2 0h1v1h-1zm2 0h2v1h-2zm11 0h1v6h-1zm9 0h1v3h-1zm-28 1h2v1h-2zm3 0h2v1h-2zm3 0h2v1h-2zm-11 1h1v2h-1zm2 0h1v4h-1zm3 0h1v3h-1zm4 0h1v3h-1zm2 0h1v4h-1zm21 1h1v2h-1zm-35 1h1v2h-1zm2 0h1v2h-1zm7 1h4v1h-4zm23 0h4v1h-4z"/><text class="h" x="16" y="472">Mar 10</text></g>
<g class="t xlabel"><path d="M94 465h1v2h-1zm5 0h1v2h-1zm22 0h1v1h-1zm7 0h1v1h-1zm-9 1h3v1h-3zm7 0h3v1h-3zm-32 1h2v2h-2zm4 0h2v4h-2zm6 0h3v1h-3zm5 0h3v1h-3zm12 0h1v6h-1zm7 0h1v6h-1zm-26 1h2v1h-2zm3 0h2v1h-2zm4 0h2v1h-2zm-15 1h1v4h-1zm2 0h1v2h-1zm6 0h1v3h-1zm4 0h1v3h-1zm3 0h1v4h-1zm-12 2h1v2h-1zm2 0h1v2h-1zm4 1h4v1h-4z"/><text class="h" x="93" y="472">Mar 11</text></g>
<g class="t xlabel"><path d="M170 465h1v2h-1zm6 0h1v2h-1zm21 0h1v1h-1zm5 0h4v1h-4zm-6 1h2v1h-2zm6 0h1v2h-1zm4 0h1v3h-1zm-36 1h2v2h-2zm5 0h2v2h-2zm5 0h3v1h-3zm5 0h1v1h-1zm2 0h2v1h-2zm10 0h1v6h-1zm-19 1h2v1h-2zm4 0h1v4h-1zm3 0h2v1h-2zm-15 1h1v4h-1zm2 0h1v2h-1zm2 0h1v2h-1zm2 0h1v4h-1zm2 0h1v3h-1zm7 0h1v4h-1zm20 0h1v1h-1zm-2 1h2v1h-2zm-30 1h1v2h-1zm29 0h1v1h-1zm-23 1h4v1h-4zm22 0h6v1h-6z"/><text class="h" x="169" y="472">Mar 12</text></g>
<g class="t xlabel"><path d="M247 465h1v2h-1zm5 0h1v2h-1zm22 0h1v1h-1zm4 0h5v1h-5zm-6 1h3v1h-3zm9 0h1v2h-1zm-34 1h2v4h-2zm4 0h2v2h-2zm5 0h2v1h-2zm3 0h1v1h-1zm2 0h1v1h-1zm2 0h2v1h-2zm11 0h1v6h-1zm-19 1h1v1h-1zm3 0h2v1h-2zm3 0h2v1h-2zm19 0h3v1h-3zm-30 1h1v2h-1zm2 0h1v4h-1zm2 0h1v2h-1zm5 0h1v3h-1zm2 0h1v4h-1zm22 0h1v2h-1zm-36 2h1v2h-1zm2 0h1v2h-1zm6 0h1v1h-1zm23 0h1v1h-1zm4 0h1v1h-1zm-27 1h5v1h-5zm23 0h5v1h-5z"/><text class="h" x="245" y="472">Mar 13</text></g>
<g class="t xlabel"><path d="M323 465h1v2h-1zm5 0h1v2h-1zm22 0h1v1h-1zm7 0h1v1h-1zm-9 1h3v1h-3zm8 0h2v2h-2zm-33 1h2v2h-2zm4 0h2v4h-2zm5 0h2v1h-2zm3 0h1v1h-1zm3 0h3v1h-3zm12 0h1v6h-1zm-19 1h2v1h-2zm3 0h2v1h-2zm4 0h2v1h-2zm17 0h1v2h-1zm2 0h1v2h-1zm-34 1h1v4h-1zm2 0h1v2h-1zm6 0h1v3h-1zm4 0h1v3h-1zm3 0h1v4h-1zm16 1h6v1h-6zm-28 1h1v2h-1zm2 0h1v2h-1zm29 0h1v2h-1zm-25 1h4v1h-4z"/><text class="h" x="321" y="472">Mar 14</text></g>
<g class="t xlabel"><path d="M399 465h1v2h-1zm6 0h1v2h-1zm21 0h1v1h-1zm5 0h4v1h-4zm-7 1h3v1h-3zm7 0h1v1h-1zm-32 1h2v2h-2zm5 0h2v2h-2zm5 0h3v1h-3zm5 0h1v1h-1zm2 0h2v1h-2zm10 0h1v6h-1zm5 0h3v1h-3zm-24 1h2v1h-2zm3 0h2v1h-2zm4 0h2v1h-2zm17 0h1v1h-1zm3 0h2v1h-2zm-35 1h1v4h-1zm2 0h1v2h-1zm2 0h1v2h-1zm2 0h1v4h-1zm2 0h1v3h-1zm4 0h1v3h-1zm3 0h1v4h-1zm21 0h1v3h-1zm-33 2h1v2h-1zm28 0h2v1h-2zm-22 1h4v1h-4zm23 0h4v1h-4z"/><text class="h" x="398" y="472">Mar 15</text></g>
<g class="t xlabel"><path d="M475 465h1v2h-1zm6 0h1v2h-1zm21 0h1v1h-1zm6 0h4v1h-4zm-7 1h2v1h-2zm6 0h1v2h-1zm4 0h1v1h-1zm-36 1h2v2h-2zm5 0h2v2h-2zm5 0h3v1h-3zm5 0h1v1h-1zm2 0h2v1h-2zm10 0h1v6h-1zm-18 1h1v1h-1zm3 0h1v4h-1zm3 0h2v1h-2zm17 0h4v1h-4zm-32 1h1v4h-1zm2 0h1v2h-1zm2 0h1v2h-1zm2 0h1v4h-1zm2 0h1v2h-1zm7 0h1v4h-1zm17 0h1v3h-1zm4 0h1v3h-1zm-33 2h1v2h-1zm6 0h1v1h-1zm0 1h4v1h-4zm24 0h3v1h-3z"/><text class="h" x="474" y="472">Mar 16</text></g>
<g class="t xlabel"><path d="M552 465h1v2h-1zm5 0h1v2h-1zm22 0h1v1h-1zm4 0h6v1h-6zm-6 1h3v1h-3zm10 0h1v2h-1zm-35 1h2v4h-2zm4 0h2v2h-2zm5 0h2v1h-2zm3 0h1v1h-1zm2 0h1v1h-1zm2 0h2v1h-2zm11 0h1v6h-1zm-19 1h2v1h-2zm3 0h2v1h-2zm3 0h2v1h-2zm20 0h1v2h-1zm-31 1h1v2h-1zm2 0h1v4h-1zm3 0h1v3h-1zm4 0h1v3h-1zm2 0h1v4h-1zm19 1h1v2h-1zm-33 1h1v2h-1zm2 0h1v2h-1zm7 1h4v1h-4zm23 0h1v1h-1z"/><text class="h" x="550" y="472">Mar 17</text></g>
<g class="t xtitle"><path d="M376 478h1v1h-1zm27 0h1v1h-1zm-28 1h1v1h-1zm29 0h1v1h-1zm-209 1h4v1h-4zm33 0h1v3h-1zm3 0h2v1h-2zm20 0h1v3h-1zm19 0h1v8h-1zm6 0h1v8h-1zm11 0h2v1h-2zm39 0h1v10h-1zm9 0h9v1h-9zm39 0h1v4h-1zm5 0h1v8h-1zm6 0h1v8h-1zm2 0h7v1h-7zm9 0h5v1h-5zm9 0h1v2h-1zm-211 1h1v1h-1zm5 0h1v2h-1zm139 0h1v9h-1zm52 0h1v9h-1zm5 0h1v7h-1zm6 0h1v2h-1zm-208 1h1v6h-1zm213 0h1v8h-1zm-203 1h4v1h-4zm8 0h4v1h-4zm7 0h5v1h-5zm7 0h4v1h-4zm7 0h1v7h-1zm3 0h5v1h-5zm9 0h5v1h-5zm6 0h4v1h-4zm7 0h4v1h-4zm23 0h5v1h-5zm8 0h1v7h-1zm2 0h1v2h-1zm5 0h1v2h-1zm4 0h4v1h-4zm6 0h1v1h-1zm2 0h3v1h-3zm4 0h5v1h-5zm8 0h5v1h-5zm24 0h1v7h-1zm3 0h5v1h-5zm6 0h4v1h-4zm8 0h4v1h-4zm-158 1h1v4h-1zm5 0h1v4h-1zm3 0h1v4h-1zm5 0h1v4h-1zm3 0h2v1h-2zm6 0h1v2h-1zm4 0h1v4h-1zm7 0h1v6h-1zm4 0h1v1h-1zm4 0h1v4h-1zm5 0h1v4h-1zm3 0h1v4h-1zm5 0h1v2h-1zm4 0h1v1h-1zm20 0h1v6h-1zm4 0h1v6h-1zm14 0h1v2h-1zm4 0h1v2h-1zm3 0h2v1h-2zm5 0h1v1h-1zm5 0h1v1h-1zm3 0h1v4h-1zm5 0h1v4h-1zm23 0h1v6h-1zm4 0h2v1h-2zm5 0h1v6h-1zm4 0h1v2h-1zm4 0h1v2h-1zm10 0h1v4h-1zm-155 1h1v5h-1zm22 0h1v5h-1zm21 0h1v1h-1zm30 0h1v2h-1zm3 0h1v3h-1zm11 0h1v5h-1zm6 0h1v1h-1zm40 0h1v5h-1zm-128 1h1v2h-1zm33 0h6v1h-6zm41 0h6v1h-6zm15 0h4v1h-4zm46 0h6v1h-6zm-159 1h1v1h-1zm57 0h1v1h-1zm36 0h1v1h-1zm5 0h1v1h-1zm18 0h1v1h-1zm43 0h1v1h-1zm43 0h1v1h-1zm-207 1h2v1h-2zm4 0h2v1h-2zm4 0h2v1h-2zm4 0h2v1h-2zm4 0h2v1h-2zm4 0h2v1h-2zm10 0h2v1h-2zm3 0h2v1h-2zm16 0h2v1h-2zm4 0h2v1h-2zm5 0h1v1h-1zm4 0h2v1h-2zm4 0h2v1h-2zm11 0h2v1h-2zm4 0h2v1h-2zm17 0h2v1h-2zm6 0h2v1h-2zm4 0h1v1h-1zm8 0h2v1h-2zm4 0h2v1h-2zm4 0h2v1h-2zm4 0h2v1h-2zm37 0h2v1h-2zm4 0h1v1h-1zm11 0h1v3h-1zm5 0h3v1h-3zm5 0h2v1h-2zm11 0h2v1h-2zm5 0h2v1h-2zm-205 1h3v1h-3zm9 0h2v1h-2zm8 0h2v1h-2zm13 0h4v1h-4zm20 0h2v1h-2zm3 0h1v1h-1zm5 0h2v1h-2zm5 0h2v1h-2zm15 0h2v1h-2zm20 0h1v1h-1zm6 0h3v1h-3zm13 0h2v1h-2zm8 0h2v1h-2zm3 0h1v1h-1zm38 0h2v1h-2zm21 0h2v1h-2zm15 0h3v1h-3zm8 1h1v1h-1zm-30 1h1v1h-1zm29 0h1v1h-1zm-28 1h1v1h-1zm27 0h1v1h-1z"/><text class="h" x="192" y="489">Coordinate Universal Time (UTC)</text></g>
<g class="t footer"><path d="M1 495h4v1h-4zm6 0h3v1h-3zm17 0h3v1h-3zm14 0h2v3h-2zm17 0h3v1h-3zm-53 1h2v6h-2zm6 0h1v7h-1zm17 0h2v2h-2zm32 0h1v2h-1zm-46 2h7v1h-7zm11 0h5v1h-5zm8 0h5v1h-5zm7 0h5v1h-5zm8 0h5v1h-5zm8 0h5v1h-5zm-41 1h2v4h-2zm5 0h1v1h-1zm4 0h2v1h-2zm4 0h2v4h-2zm5 0h1v1h-1zm3 0h2v1h-2zm5 0h2v4h-2zm6 0h2v1h-2zm5 0h1v1h-1zm3 0h2v4h-2zm5 0h1v4h-1zm-40 1h2v2h-2zm3 0h2v2h-2zm11 0h4v1h-4zm13 0h6v1h-6zm-14 1h1v1h-1zm3 0h2v2h-2zm11 0h2v2h-2zm-41 1h1v1h-1zm14 0h1v1h-1zm4 0h1v1h-1zm8 0h2v1h-2zm13 0h1v1h-1zm7 0h1v1h-1zm-46 1h5v1h-5zm9 0h6v1h-6zm10 0h6v1h-6zm8 0h6v1h-6zm9 0h4v1h-4zm6 0h5v1h-5zm8 0h7v1h-7zm-41 1h2v2h-2zm-1 2h4v1h-4z"/><text class="h" x="0" y="503">Updated</text></g>
<g class="t footer"><path d="M68 495h5v1h-5zm9 0h4v1h-4zm10 0h1v1h-1zm6 0h4v1h-4zm15 0h1v2h-1zm7 0h1v2h-1zm26 0h1v1h-1zm7 0h4v1h-4zm15 0h4v1h-4zm10 0h1v1h-1zm6 0h6v1h-6zm9 0h4v1h-4zm-120 1h1v1h-1zm4 0h1v4h-1zm5 0h1v1h-1zm4 0h1v7h-1zm5 0h2v1h-2zm7 0h1v1h-1zm4 0h1v2h-1zm43 0h2v1h-2zm8 0h1v1h-1zm4 0h1v1h-1zm10 0h1v2h-1zm4 0h1v1h-1zm6 0h2v1h-2zm11 0h1v1h-1zm5 0h1v1h-1zm4 0h1v7h-1zm-125 1h1v1h-1zm9 0h1v2h-1zm9 0h1v1h-1zm2 0h1v8h-1zm5 0h1v2h-1zm16 0h2v3h-2zm6 0h2v2h-2zm25 0h1v1h-1zm2 0h1v8h-1zm6 0h1v2h-1zm20 0h1v1h-1zm4 0h1v1h-1zm2 0h1v8h-1zm9 0h1v1h-1zm5 0h1v6h-1zm-89 1h1v1h-1zm21 0h5v1h-5zm7 0h4v1h-4zm23 0h1v1h-1zm17 0h2v1h-2zm15 0h2v1h-2zm-106 1h1v3h-1zm18 0h1v2h-1zm4 0h2v1h-2zm16 0h1v2h-1zm2 0h1v6h-1zm3 0h1v2h-1zm5 0h1v4h-1zm3 0h1v6h-1zm21 0h2v1h-2zm3 0h2v1h-2zm16 0h1v1h-1zm17 0h2v1h-2zm-112 1h1v1h-1zm25 0h1v1h-1zm2 0h1v2h-1zm10 0h1v5h-1zm2 0h1v3h-1zm37 0h1v3h-1zm5 0h1v3h-1zm13 0h1v1h-1zm19 0h1v3h-1zm-114 1h1v1h-1zm24 0h2v1h-2zm18 0h1v2h-1zm5 0h1v2h-1zm47 0h1v1h-1zm-95 1h1v1h-1zm7 0h1v1h-1zm21 0h1v1h-1zm66 0h1v1h-1zm15 0h1v1h-1zm-110 1h1v1h-1zm9 0h1v1h-1zm3 0h1v1h-1zm13 0h1v1h-1zm3 0h1v1h-1zm15 0h1v2h-1zm7 0h2v1h-2zm4 0h2v1h-2zm25 0h2v1h-2zm4 0h2v1h-2zm11 0h1v1h-1zm17 0h1v1h-1zm3 0h3v1h-3zm6 0h1v1h-1zm3 0h1v1h-1zm-124 1h7v1h-7zm11 0h2v1h-2zm16 0h2v1h-2zm26 0h2v1h-2zm3 0h1v1h-1zm26 0h2v1h-2zm12 0h7v1h-7zm19 0h2v1h-2zm9 0h2v1h-2z"/><text class="h" x="66" y="504">2019 Mar 16 2130</text></g>
<g class="t footer"><path d="M445 493h1v2h-1zm-40 2h1v1h-1zm6 0h1v7h-1zm5 0h4v1h-4zm10 0h1v2h-1zm7 0h1v2h-1zm11 0h1v2h-1zm4 0h6v1h-6zm8 0h1v3h-1zm4 0h1v3h-1zm4 0h1v3h-1zm2 0h7v1h-7zm11 0h4v1h-4zm14 0h6v1h-6zm25 0h1v10h-1zm8 0h1v3h-1zm28 0h5v1h-5zm9 0h5v1h-5zm15 0h1v8h-1zm6 0h1v7h-1zm4 0h5v1h-5zm10 0h1v2h-1zm-191 1h2v2h-2zm10 0h1v1h-1zm5 0h1v2h-1zm28 0h1v3h-1zm5 0h1v1h-1zm13 0h1v4h-1zm6 0h1v3h-1zm4 0h1v1h-1zm5 0h1v2h-1zm10 0h1v3h-1zm5 0h1v1h-1zm55 0h1v7h-1zm6 0h1v2h-1zm3 0h1v2h-1zm5 0h1v1h-1zm20 0h1v2h-1zm6 0h1v1h-1zm-177 1h1v6h-1zm11 0h1v2h-1zm2 0h1v3h-1zm5 0h1v3h-1zm2 0h1v2h-1zm9 0h1v2h-1zm32 0h1v6h-1zm22 0h1v1h-1zm69 0h1v6h-1zm29 0h1v2h-1zm2 0h1v3h-1zm-192 1h1v7h-1zm2 0h1v1h-1zm14 0h1v4h-1zm36 0h1v4h-1zm2 0h1v4h-1zm2 0h1v4h-1zm2 0h1v4h-1zm33 0h2v1h-2zm5 0h3v1h-3zm7 0h1v6h-1zm4 0h1v5h-1zm8 0h5v1h-5zm8 0h4v1h-4zm7 0h4v1h-4zm24 0h1v4h-1zm26 0h2v1h-2zm-177 1h1v2h-1zm16 0h1v2h-1zm11 0h1v2h-1zm7 0h1v2h-1zm7 0h2v1h-2zm22 0h2v1h-2zm20 0h6v1h-6zm9 0h1v2h-1zm4 0h1v1h-1zm15 0h1v4h-1zm5 0h1v4h-1zm3 0h1v2h-1zm4 0h1v1h-1zm4 0h1v6h-1zm51 0h2v1h-2zm8 0h1v2h-1zm-166 1h1v1h-1zm3 0h1v1h-1zm20 0h3v1h-3zm15 0h5v1h-5zm25 0h1v4h-1zm5 0h1v1h-1zm9 0h1v2h-1zm27 0h1v1h-1zm56 0h3v1h-3zm10 0h1v1h-1zm-189 1h1v1h-1zm14 0h6v1h-6zm8 0h6v1h-6zm10 0h1v2h-1zm12 0h1v2h-1zm13 0h1v4h-1zm31 0h1v2h-1zm2 0h1v2h-1zm28 0h6v1h-6zm63 0h2v1h-2zm3 0h6v1h-6zm-183 1h2v2h-2zm10 0h1v1h-1zm3 0h1v1h-1zm5 0h1v1h-1zm3 0h1v1h-1zm5 0h1v1h-1zm22 0h1v3h-1zm4 0h1v3h-1zm19 0h1v1h-1zm23 0h1v1h-1zm23 0h1v1h-1zm30 0h1v1h-1zm3 0h1v1h-1zm21 0h1v2h-1zm10 0h1v1h-1zm2 0h1v1h-1zm5 0h1v1h-1zm-183 1h2v1h-2zm4 0h2v1h-2zm3 0h1v2h-1zm7 0h2v2h-2zm8 0h1v2h-1zm3 0h1v2h-1zm8 0h1v1h-1zm4 0h2v1h-2zm24 0h2v1h-2zm4 0h2v1h-2zm16 0h1v1h-1zm4 0h2v1h-2zm3 0h2v1h-2zm8 0h2v1h-2zm8 0h2v1h-2zm4 0h2v1h-2zm4 0h2v1h-2zm4 0h2v1h-2zm9 0h2v1h-2zm11 0h2v1h-2zm5 0h2v1h-2zm4 0h2v1h-2zm5 0h1v1h-1zm11 0h2v1h-2zm9 0h2v1h-2zm5 0h3v1h-3zm9 0h1v2h-1zm-188 1h1v1h-1zm5 0h3v1h-3zm33 0h3v1h-3zm28 0h3v1h-3zm14 0h5v1h-5zm10 0h3v1h-3zm8 0h2v1h-2zm3 0h1v1h-1zm9 0h2v1h-2zm3 0h1v1h-1zm5 0h2v1h-2zm12 0h1v2h-1zm12 0h3v1h-3zm9 0h3v1h-3zm16 0h3v1h-3zm9 0h3v1h-3zm5 0h1v1h-1zm-153 1h1v2h-1zm101 1h1v1h-1zm-102 1h1v1h-1z"/><text class="h" x="403" y="504">NOAA/SWPC Boulder, CO USA</text></g>
</svg>
</body>
</html>
